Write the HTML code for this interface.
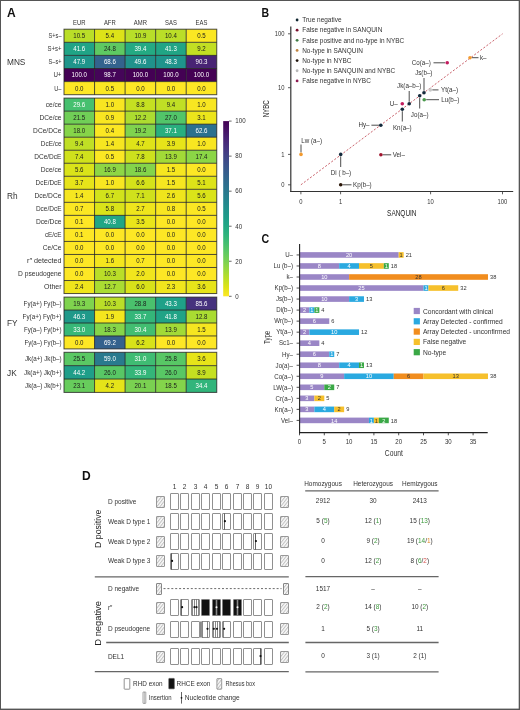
<!DOCTYPE html>
<html><head><meta charset="utf-8"><style>
html,body{margin:0;padding:0;background:#fff;}
svg{display:block;font-family:"Liberation Sans", sans-serif;will-change:transform;}
</style></head><body>
<svg width="520" height="710" viewBox="0 0 520 710">
<rect width="520" height="710" fill="#fff"/>
<text x="6.90" y="16.70" font-size="12.2" font-weight="bold" textLength="8.7" lengthAdjust="spacingAndGlyphs" fill="#111">A</text>
<text x="79.28" y="25.10" font-size="6.7" text-anchor="middle" textLength="12.45" lengthAdjust="spacingAndGlyphs" fill="#333">EUR</text>
<text x="109.83" y="25.10" font-size="6.7" text-anchor="middle" textLength="11.79" lengthAdjust="spacingAndGlyphs" fill="#333">AFR</text>
<text x="140.38" y="25.10" font-size="6.7" text-anchor="middle" textLength="13.1" lengthAdjust="spacingAndGlyphs" fill="#333">AMR</text>
<text x="170.93" y="25.10" font-size="6.7" text-anchor="middle" textLength="11.8" lengthAdjust="spacingAndGlyphs" fill="#333">SAS</text>
<text x="201.47" y="25.10" font-size="6.7" text-anchor="middle" textLength="11.8" lengthAdjust="spacingAndGlyphs" fill="#333">EAS</text>
<text x="7.00" y="65.15" font-size="9.2" textLength="18.4" lengthAdjust="spacingAndGlyphs" fill="#333">MNS</text>
<text x="61.50" y="38.15" font-size="7.0" text-anchor="end" textLength="12.9" lengthAdjust="spacingAndGlyphs" fill="#333">S+s–</text>
<text x="61.50" y="51.25" font-size="7.0" text-anchor="end" textLength="14.0" lengthAdjust="spacingAndGlyphs" fill="#333">S+s+</text>
<text x="61.50" y="64.35" font-size="7.0" text-anchor="end" textLength="12.9" lengthAdjust="spacingAndGlyphs" fill="#333">S–s+</text>
<text x="61.50" y="77.45" font-size="7.0" text-anchor="end" textLength="8.1" lengthAdjust="spacingAndGlyphs" fill="#333">U+</text>
<text x="61.50" y="90.55" font-size="7.0" text-anchor="end" textLength="7.2" lengthAdjust="spacingAndGlyphs" fill="#333">U–</text>
<text x="7.00" y="199.02" font-size="9.2" textLength="10.58" lengthAdjust="spacingAndGlyphs" fill="#333">Rh</text>
<text x="61.50" y="107.02" font-size="7.0" text-anchor="end" textLength="15.7" lengthAdjust="spacingAndGlyphs" fill="#333">ce/ce</text>
<text x="61.50" y="120.05" font-size="7.0" text-anchor="end" textLength="22.1" lengthAdjust="spacingAndGlyphs" fill="#333">DCe/ce</text>
<text x="61.50" y="133.07" font-size="7.0" text-anchor="end" textLength="28.4" lengthAdjust="spacingAndGlyphs" fill="#333">DCe/DCe</text>
<text x="61.50" y="146.10" font-size="7.0" text-anchor="end" textLength="20.7" lengthAdjust="spacingAndGlyphs" fill="#333">DcE/ce</text>
<text x="61.50" y="159.13" font-size="7.0" text-anchor="end" textLength="27.3" lengthAdjust="spacingAndGlyphs" fill="#333">DCe/DcE</text>
<text x="61.50" y="172.16" font-size="7.0" text-anchor="end" textLength="20.7" lengthAdjust="spacingAndGlyphs" fill="#333">Dce/ce</text>
<text x="61.50" y="185.19" font-size="7.0" text-anchor="end" textLength="25.9" lengthAdjust="spacingAndGlyphs" fill="#333">DcE/DcE</text>
<text x="61.50" y="198.22" font-size="7.0" text-anchor="end" textLength="27.1" lengthAdjust="spacingAndGlyphs" fill="#333">Dce/DCe</text>
<text x="61.50" y="211.25" font-size="7.0" text-anchor="end" textLength="25.6" lengthAdjust="spacingAndGlyphs" fill="#333">Dce/DcE</text>
<text x="61.50" y="224.28" font-size="7.0" text-anchor="end" textLength="25.6" lengthAdjust="spacingAndGlyphs" fill="#333">Dce/Dce</text>
<text x="61.50" y="237.31" font-size="7.0" text-anchor="end" textLength="16.6" lengthAdjust="spacingAndGlyphs" fill="#333">cE/cE</text>
<text x="61.50" y="250.34" font-size="7.0" text-anchor="end" textLength="18.7" lengthAdjust="spacingAndGlyphs" fill="#333">Ce/Ce</text>
<text x="61.50" y="263.37" font-size="7.0" text-anchor="end" textLength="34.4" lengthAdjust="spacingAndGlyphs" fill="#333">r″ detected</text>
<text x="61.50" y="276.40" font-size="7.0" text-anchor="end" textLength="43.4" lengthAdjust="spacingAndGlyphs" fill="#333">D pseudogene</text>
<text x="61.50" y="289.43" font-size="7.0" text-anchor="end" textLength="17.5" lengthAdjust="spacingAndGlyphs" fill="#333">Other</text>
<text x="7.00" y="326.20" font-size="9.2" textLength="10.58" lengthAdjust="spacingAndGlyphs" fill="#333">FY</text>
<text x="61.50" y="305.98" font-size="7.0" text-anchor="end" textLength="37.9" lengthAdjust="spacingAndGlyphs" fill="#333">Fy(a+) Fy(b–)</text>
<text x="61.50" y="318.93" font-size="7.0" text-anchor="end" textLength="39.0" lengthAdjust="spacingAndGlyphs" fill="#333">Fy(a+) Fy(b+)</text>
<text x="61.50" y="331.88" font-size="7.0" text-anchor="end" textLength="37.6" lengthAdjust="spacingAndGlyphs" fill="#333">Fy(a–) Fy(b+)</text>
<text x="61.50" y="344.83" font-size="7.0" text-anchor="end" textLength="37.0" lengthAdjust="spacingAndGlyphs" fill="#333">Fy(a–) Fy(b–)</text>
<text x="7.00" y="375.56" font-size="9.2" textLength="9.66" lengthAdjust="spacingAndGlyphs" fill="#333">JK</text>
<text x="61.50" y="361.38" font-size="7.0" text-anchor="end" textLength="36.6" lengthAdjust="spacingAndGlyphs" fill="#333">Jk(a+) Jk(b–)</text>
<text x="61.50" y="374.75" font-size="7.0" text-anchor="end" textLength="37.5" lengthAdjust="spacingAndGlyphs" fill="#333">Jk(a+) Jk(b+)</text>
<text x="61.50" y="388.12" font-size="7.0" text-anchor="end" textLength="36.4" lengthAdjust="spacingAndGlyphs" fill="#333">Jk(a–) Jk(b+)</text>
<rect x="64.00" y="29.20" width="30.55" height="13.10" fill="#bade28"/>
<rect x="94.55" y="29.20" width="30.55" height="13.10" fill="#dde318"/>
<rect x="125.10" y="29.20" width="30.55" height="13.10" fill="#b8de29"/>
<rect x="155.65" y="29.20" width="30.55" height="13.10" fill="#bade28"/>
<rect x="186.20" y="29.20" width="30.55" height="13.10" fill="#fbe723"/>
<rect x="64.00" y="42.30" width="30.55" height="13.10" fill="#20a486"/>
<rect x="94.55" y="42.30" width="30.55" height="13.10" fill="#5ec962"/>
<rect x="125.10" y="42.30" width="30.55" height="13.10" fill="#24aa83"/>
<rect x="155.65" y="42.30" width="30.55" height="13.10" fill="#21a585"/>
<rect x="186.20" y="42.30" width="30.55" height="13.10" fill="#c2df23"/>
<rect x="64.00" y="55.40" width="30.55" height="13.10" fill="#1f958b"/>
<rect x="94.55" y="55.40" width="30.55" height="13.10" fill="#33638d"/>
<rect x="125.10" y="55.40" width="30.55" height="13.10" fill="#20928c"/>
<rect x="155.65" y="55.40" width="30.55" height="13.10" fill="#1f948c"/>
<rect x="186.20" y="55.40" width="30.55" height="13.10" fill="#482374"/>
<rect x="64.00" y="68.50" width="30.55" height="13.10" fill="#440154"/>
<rect x="94.55" y="68.50" width="30.55" height="13.10" fill="#450559"/>
<rect x="125.10" y="68.50" width="30.55" height="13.10" fill="#440154"/>
<rect x="155.65" y="68.50" width="30.55" height="13.10" fill="#440154"/>
<rect x="186.20" y="68.50" width="30.55" height="13.10" fill="#440154"/>
<rect x="64.00" y="81.60" width="30.55" height="13.10" fill="#fde725"/>
<rect x="94.55" y="81.60" width="30.55" height="13.10" fill="#fbe723"/>
<rect x="125.10" y="81.60" width="30.55" height="13.10" fill="#fde725"/>
<rect x="155.65" y="81.60" width="30.55" height="13.10" fill="#fde725"/>
<rect x="186.20" y="81.60" width="30.55" height="13.10" fill="#fde725"/>
<rect x="64.00" y="98.10" width="30.55" height="13.03" fill="#46c06f"/>
<rect x="94.55" y="98.10" width="30.55" height="13.03" fill="#f8e621"/>
<rect x="125.10" y="98.10" width="30.55" height="13.03" fill="#c5e021"/>
<rect x="155.65" y="98.10" width="30.55" height="13.03" fill="#c0df25"/>
<rect x="186.20" y="98.10" width="30.55" height="13.03" fill="#f8e621"/>
<rect x="64.00" y="111.13" width="30.55" height="13.03" fill="#70cf57"/>
<rect x="94.55" y="111.13" width="30.55" height="13.03" fill="#f8e621"/>
<rect x="125.10" y="111.13" width="30.55" height="13.03" fill="#addc30"/>
<rect x="155.65" y="111.13" width="30.55" height="13.03" fill="#52c569"/>
<rect x="186.20" y="111.13" width="30.55" height="13.03" fill="#ece51b"/>
<rect x="64.00" y="124.16" width="30.55" height="13.03" fill="#86d549"/>
<rect x="94.55" y="124.16" width="30.55" height="13.03" fill="#fbe723"/>
<rect x="125.10" y="124.16" width="30.55" height="13.03" fill="#7fd34e"/>
<rect x="155.65" y="124.16" width="30.55" height="13.03" fill="#29af7f"/>
<rect x="186.20" y="124.16" width="30.55" height="13.03" fill="#2c718e"/>
<rect x="64.00" y="137.19" width="30.55" height="13.03" fill="#c0df25"/>
<rect x="94.55" y="137.19" width="30.55" height="13.03" fill="#f6e620"/>
<rect x="125.10" y="137.19" width="30.55" height="13.03" fill="#dfe318"/>
<rect x="155.65" y="137.19" width="30.55" height="13.03" fill="#e7e419"/>
<rect x="186.20" y="137.19" width="30.55" height="13.03" fill="#f8e621"/>
<rect x="64.00" y="150.22" width="30.55" height="13.03" fill="#d0e11c"/>
<rect x="94.55" y="150.22" width="30.55" height="13.03" fill="#fbe723"/>
<rect x="125.10" y="150.22" width="30.55" height="13.03" fill="#cde11d"/>
<rect x="155.65" y="150.22" width="30.55" height="13.03" fill="#a2da37"/>
<rect x="186.20" y="150.22" width="30.55" height="13.03" fill="#8bd646"/>
<rect x="64.00" y="163.25" width="30.55" height="13.03" fill="#dae319"/>
<rect x="94.55" y="163.25" width="30.55" height="13.03" fill="#8ed645"/>
<rect x="125.10" y="163.25" width="30.55" height="13.03" fill="#84d44b"/>
<rect x="155.65" y="163.25" width="30.55" height="13.03" fill="#f6e620"/>
<rect x="186.20" y="163.25" width="30.55" height="13.03" fill="#fde725"/>
<rect x="64.00" y="176.28" width="30.55" height="13.03" fill="#e7e419"/>
<rect x="94.55" y="176.28" width="30.55" height="13.03" fill="#f8e621"/>
<rect x="125.10" y="176.28" width="30.55" height="13.03" fill="#d5e21a"/>
<rect x="155.65" y="176.28" width="30.55" height="13.03" fill="#f6e620"/>
<rect x="186.20" y="176.28" width="30.55" height="13.03" fill="#dde318"/>
<rect x="64.00" y="189.31" width="30.55" height="13.03" fill="#f6e620"/>
<rect x="94.55" y="189.31" width="30.55" height="13.03" fill="#d2e21b"/>
<rect x="125.10" y="189.31" width="30.55" height="13.03" fill="#d0e11c"/>
<rect x="155.65" y="189.31" width="30.55" height="13.03" fill="#efe51c"/>
<rect x="186.20" y="189.31" width="30.55" height="13.03" fill="#dae319"/>
<rect x="64.00" y="202.34" width="30.55" height="13.03" fill="#fbe723"/>
<rect x="94.55" y="202.34" width="30.55" height="13.03" fill="#dae319"/>
<rect x="125.10" y="202.34" width="30.55" height="13.03" fill="#efe51c"/>
<rect x="155.65" y="202.34" width="30.55" height="13.03" fill="#f8e621"/>
<rect x="186.20" y="202.34" width="30.55" height="13.03" fill="#fbe723"/>
<rect x="64.00" y="215.37" width="30.55" height="13.03" fill="#fde725"/>
<rect x="94.55" y="215.37" width="30.55" height="13.03" fill="#21a685"/>
<rect x="125.10" y="215.37" width="30.55" height="13.03" fill="#eae51a"/>
<rect x="155.65" y="215.37" width="30.55" height="13.03" fill="#fde725"/>
<rect x="186.20" y="215.37" width="30.55" height="13.03" fill="#fde725"/>
<rect x="64.00" y="228.40" width="30.55" height="13.03" fill="#fde725"/>
<rect x="94.55" y="228.40" width="30.55" height="13.03" fill="#fde725"/>
<rect x="125.10" y="228.40" width="30.55" height="13.03" fill="#fde725"/>
<rect x="155.65" y="228.40" width="30.55" height="13.03" fill="#fde725"/>
<rect x="186.20" y="228.40" width="30.55" height="13.03" fill="#fde725"/>
<rect x="64.00" y="241.43" width="30.55" height="13.03" fill="#fde725"/>
<rect x="94.55" y="241.43" width="30.55" height="13.03" fill="#fde725"/>
<rect x="125.10" y="241.43" width="30.55" height="13.03" fill="#fde725"/>
<rect x="155.65" y="241.43" width="30.55" height="13.03" fill="#fde725"/>
<rect x="186.20" y="241.43" width="30.55" height="13.03" fill="#fde725"/>
<rect x="64.00" y="254.46" width="30.55" height="13.03" fill="#fde725"/>
<rect x="94.55" y="254.46" width="30.55" height="13.03" fill="#f4e61e"/>
<rect x="125.10" y="254.46" width="30.55" height="13.03" fill="#fbe723"/>
<rect x="155.65" y="254.46" width="30.55" height="13.03" fill="#fde725"/>
<rect x="186.20" y="254.46" width="30.55" height="13.03" fill="#fde725"/>
<rect x="64.00" y="267.49" width="30.55" height="13.03" fill="#fde725"/>
<rect x="94.55" y="267.49" width="30.55" height="13.03" fill="#bade28"/>
<rect x="125.10" y="267.49" width="30.55" height="13.03" fill="#f1e51d"/>
<rect x="155.65" y="267.49" width="30.55" height="13.03" fill="#fde725"/>
<rect x="186.20" y="267.49" width="30.55" height="13.03" fill="#fde725"/>
<rect x="64.00" y="280.52" width="30.55" height="13.03" fill="#efe51c"/>
<rect x="94.55" y="280.52" width="30.55" height="13.03" fill="#aadc32"/>
<rect x="125.10" y="280.52" width="30.55" height="13.03" fill="#d8e219"/>
<rect x="155.65" y="280.52" width="30.55" height="13.03" fill="#f1e51d"/>
<rect x="186.20" y="280.52" width="30.55" height="13.03" fill="#e7e419"/>
<rect x="64.00" y="297.10" width="30.55" height="12.95" fill="#7fd34e"/>
<rect x="94.55" y="297.10" width="30.55" height="12.95" fill="#bade28"/>
<rect x="125.10" y="297.10" width="30.55" height="12.95" fill="#4ac16d"/>
<rect x="155.65" y="297.10" width="30.55" height="12.95" fill="#1fa188"/>
<rect x="186.20" y="297.10" width="30.55" height="12.95" fill="#46327e"/>
<rect x="64.00" y="310.05" width="30.55" height="12.95" fill="#1f998a"/>
<rect x="94.55" y="310.05" width="30.55" height="12.95" fill="#f4e61e"/>
<rect x="125.10" y="310.05" width="30.55" height="12.95" fill="#34b679"/>
<rect x="155.65" y="310.05" width="30.55" height="12.95" fill="#20a386"/>
<rect x="186.20" y="310.05" width="30.55" height="12.95" fill="#aadc32"/>
<rect x="64.00" y="323.00" width="30.55" height="12.95" fill="#37b878"/>
<rect x="94.55" y="323.00" width="30.55" height="12.95" fill="#86d549"/>
<rect x="125.10" y="323.00" width="30.55" height="12.95" fill="#42be71"/>
<rect x="155.65" y="323.00" width="30.55" height="12.95" fill="#a2da37"/>
<rect x="186.20" y="323.00" width="30.55" height="12.95" fill="#f6e620"/>
<rect x="64.00" y="335.95" width="30.55" height="12.95" fill="#fde725"/>
<rect x="94.55" y="335.95" width="30.55" height="12.95" fill="#34618d"/>
<rect x="125.10" y="335.95" width="30.55" height="12.95" fill="#d8e219"/>
<rect x="155.65" y="335.95" width="30.55" height="12.95" fill="#fde725"/>
<rect x="186.20" y="335.95" width="30.55" height="12.95" fill="#fde725"/>
<rect x="64.00" y="352.30" width="30.55" height="13.37" fill="#5ac864"/>
<rect x="94.55" y="352.30" width="30.55" height="13.37" fill="#297a8e"/>
<rect x="125.10" y="352.30" width="30.55" height="13.37" fill="#3fbc73"/>
<rect x="155.65" y="352.30" width="30.55" height="13.37" fill="#58c765"/>
<rect x="186.20" y="352.30" width="30.55" height="13.37" fill="#e7e419"/>
<rect x="64.00" y="365.67" width="30.55" height="13.37" fill="#1f9e89"/>
<rect x="94.55" y="365.67" width="30.55" height="13.37" fill="#58c765"/>
<rect x="125.10" y="365.67" width="30.55" height="13.37" fill="#34b679"/>
<rect x="155.65" y="365.67" width="30.55" height="13.37" fill="#58c765"/>
<rect x="186.20" y="365.67" width="30.55" height="13.37" fill="#c5e021"/>
<rect x="64.00" y="379.04" width="30.55" height="13.37" fill="#67cc5c"/>
<rect x="94.55" y="379.04" width="30.55" height="13.37" fill="#e5e419"/>
<rect x="125.10" y="379.04" width="30.55" height="13.37" fill="#7ad151"/>
<rect x="155.65" y="379.04" width="30.55" height="13.37" fill="#84d44b"/>
<rect x="186.20" y="379.04" width="30.55" height="13.37" fill="#31b57b"/>
<rect x="64.00" y="29.20" width="152.75" height="65.50" fill="none" stroke="#222" stroke-opacity="0.8" stroke-width="1"/>
<line x1="64.00" y1="42.30" x2="216.75" y2="42.30" stroke="#222" stroke-opacity="0.8" stroke-width="1"/>
<line x1="64.00" y1="55.40" x2="216.75" y2="55.40" stroke="#222" stroke-opacity="0.8" stroke-width="1"/>
<line x1="64.00" y1="68.50" x2="216.75" y2="68.50" stroke="#222" stroke-opacity="0.8" stroke-width="1"/>
<line x1="64.00" y1="81.60" x2="216.75" y2="81.60" stroke="#222" stroke-opacity="0.8" stroke-width="1"/>
<line x1="94.55" y1="29.20" x2="94.55" y2="94.70" stroke="#222" stroke-opacity="0.8" stroke-width="1"/>
<line x1="125.10" y1="29.20" x2="125.10" y2="94.70" stroke="#222" stroke-opacity="0.8" stroke-width="1"/>
<line x1="155.65" y1="29.20" x2="155.65" y2="94.70" stroke="#222" stroke-opacity="0.8" stroke-width="1"/>
<line x1="186.20" y1="29.20" x2="186.20" y2="94.70" stroke="#222" stroke-opacity="0.8" stroke-width="1"/>
<rect x="64.00" y="98.10" width="152.75" height="195.45" fill="none" stroke="#222" stroke-opacity="0.8" stroke-width="1"/>
<line x1="64.00" y1="111.13" x2="216.75" y2="111.13" stroke="#222" stroke-opacity="0.8" stroke-width="1"/>
<line x1="64.00" y1="124.16" x2="216.75" y2="124.16" stroke="#222" stroke-opacity="0.8" stroke-width="1"/>
<line x1="64.00" y1="137.19" x2="216.75" y2="137.19" stroke="#222" stroke-opacity="0.8" stroke-width="1"/>
<line x1="64.00" y1="150.22" x2="216.75" y2="150.22" stroke="#222" stroke-opacity="0.8" stroke-width="1"/>
<line x1="64.00" y1="163.25" x2="216.75" y2="163.25" stroke="#222" stroke-opacity="0.8" stroke-width="1"/>
<line x1="64.00" y1="176.28" x2="216.75" y2="176.28" stroke="#222" stroke-opacity="0.8" stroke-width="1"/>
<line x1="64.00" y1="189.31" x2="216.75" y2="189.31" stroke="#222" stroke-opacity="0.8" stroke-width="1"/>
<line x1="64.00" y1="202.34" x2="216.75" y2="202.34" stroke="#222" stroke-opacity="0.8" stroke-width="1"/>
<line x1="64.00" y1="215.37" x2="216.75" y2="215.37" stroke="#222" stroke-opacity="0.8" stroke-width="1"/>
<line x1="64.00" y1="228.40" x2="216.75" y2="228.40" stroke="#222" stroke-opacity="0.8" stroke-width="1"/>
<line x1="64.00" y1="241.43" x2="216.75" y2="241.43" stroke="#222" stroke-opacity="0.8" stroke-width="1"/>
<line x1="64.00" y1="254.46" x2="216.75" y2="254.46" stroke="#222" stroke-opacity="0.8" stroke-width="1"/>
<line x1="64.00" y1="267.49" x2="216.75" y2="267.49" stroke="#222" stroke-opacity="0.8" stroke-width="1"/>
<line x1="64.00" y1="280.52" x2="216.75" y2="280.52" stroke="#222" stroke-opacity="0.8" stroke-width="1"/>
<line x1="94.55" y1="98.10" x2="94.55" y2="293.55" stroke="#222" stroke-opacity="0.8" stroke-width="1"/>
<line x1="125.10" y1="98.10" x2="125.10" y2="293.55" stroke="#222" stroke-opacity="0.8" stroke-width="1"/>
<line x1="155.65" y1="98.10" x2="155.65" y2="293.55" stroke="#222" stroke-opacity="0.8" stroke-width="1"/>
<line x1="186.20" y1="98.10" x2="186.20" y2="293.55" stroke="#222" stroke-opacity="0.8" stroke-width="1"/>
<rect x="64.00" y="297.10" width="152.75" height="51.80" fill="none" stroke="#222" stroke-opacity="0.8" stroke-width="1"/>
<line x1="64.00" y1="310.05" x2="216.75" y2="310.05" stroke="#222" stroke-opacity="0.8" stroke-width="1"/>
<line x1="64.00" y1="323.00" x2="216.75" y2="323.00" stroke="#222" stroke-opacity="0.8" stroke-width="1"/>
<line x1="64.00" y1="335.95" x2="216.75" y2="335.95" stroke="#222" stroke-opacity="0.8" stroke-width="1"/>
<line x1="94.55" y1="297.10" x2="94.55" y2="348.90" stroke="#222" stroke-opacity="0.8" stroke-width="1"/>
<line x1="125.10" y1="297.10" x2="125.10" y2="348.90" stroke="#222" stroke-opacity="0.8" stroke-width="1"/>
<line x1="155.65" y1="297.10" x2="155.65" y2="348.90" stroke="#222" stroke-opacity="0.8" stroke-width="1"/>
<line x1="186.20" y1="297.10" x2="186.20" y2="348.90" stroke="#222" stroke-opacity="0.8" stroke-width="1"/>
<rect x="64.00" y="352.30" width="152.75" height="40.11" fill="none" stroke="#222" stroke-opacity="0.8" stroke-width="1"/>
<line x1="64.00" y1="365.67" x2="216.75" y2="365.67" stroke="#222" stroke-opacity="0.8" stroke-width="1"/>
<line x1="64.00" y1="379.04" x2="216.75" y2="379.04" stroke="#222" stroke-opacity="0.8" stroke-width="1"/>
<line x1="94.55" y1="352.30" x2="94.55" y2="392.41" stroke="#222" stroke-opacity="0.8" stroke-width="1"/>
<line x1="125.10" y1="352.30" x2="125.10" y2="392.41" stroke="#222" stroke-opacity="0.8" stroke-width="1"/>
<line x1="155.65" y1="352.30" x2="155.65" y2="392.41" stroke="#222" stroke-opacity="0.8" stroke-width="1"/>
<line x1="186.20" y1="352.30" x2="186.20" y2="392.41" stroke="#222" stroke-opacity="0.8" stroke-width="1"/>
<text x="79.28" y="38.15" font-size="6.8" text-anchor="middle" textLength="11.91" lengthAdjust="spacingAndGlyphs" fill="#1c1c1c">10.5</text>
<text x="109.83" y="38.15" font-size="6.8" text-anchor="middle" textLength="8.51" lengthAdjust="spacingAndGlyphs" fill="#1c1c1c">5.4</text>
<text x="140.38" y="38.15" font-size="6.8" text-anchor="middle" textLength="11.91" lengthAdjust="spacingAndGlyphs" fill="#1c1c1c">10.9</text>
<text x="170.93" y="38.15" font-size="6.8" text-anchor="middle" textLength="11.91" lengthAdjust="spacingAndGlyphs" fill="#1c1c1c">10.4</text>
<text x="201.47" y="38.15" font-size="6.8" text-anchor="middle" textLength="8.51" lengthAdjust="spacingAndGlyphs" fill="#1c1c1c">0.5</text>
<text x="79.28" y="51.25" font-size="6.8" text-anchor="middle" textLength="11.91" lengthAdjust="spacingAndGlyphs" fill="#fff">41.6</text>
<text x="109.83" y="51.25" font-size="6.8" text-anchor="middle" textLength="11.91" lengthAdjust="spacingAndGlyphs" fill="#1c1c1c">24.8</text>
<text x="140.38" y="51.25" font-size="6.8" text-anchor="middle" textLength="11.91" lengthAdjust="spacingAndGlyphs" fill="#fff">39.4</text>
<text x="170.93" y="51.25" font-size="6.8" text-anchor="middle" textLength="11.91" lengthAdjust="spacingAndGlyphs" fill="#fff">41.3</text>
<text x="201.47" y="51.25" font-size="6.8" text-anchor="middle" textLength="8.51" lengthAdjust="spacingAndGlyphs" fill="#1c1c1c">9.2</text>
<text x="79.28" y="64.35" font-size="6.8" text-anchor="middle" textLength="11.91" lengthAdjust="spacingAndGlyphs" fill="#fff">47.9</text>
<text x="109.83" y="64.35" font-size="6.8" text-anchor="middle" textLength="11.91" lengthAdjust="spacingAndGlyphs" fill="#fff">68.6</text>
<text x="140.38" y="64.35" font-size="6.8" text-anchor="middle" textLength="11.91" lengthAdjust="spacingAndGlyphs" fill="#fff">49.6</text>
<text x="170.93" y="64.35" font-size="6.8" text-anchor="middle" textLength="11.91" lengthAdjust="spacingAndGlyphs" fill="#fff">48.3</text>
<text x="201.47" y="64.35" font-size="6.8" text-anchor="middle" textLength="11.91" lengthAdjust="spacingAndGlyphs" fill="#fff">90.3</text>
<text x="79.28" y="77.45" font-size="6.8" text-anchor="middle" textLength="15.32" lengthAdjust="spacingAndGlyphs" fill="#fff">100.0</text>
<text x="109.83" y="77.45" font-size="6.8" text-anchor="middle" textLength="11.91" lengthAdjust="spacingAndGlyphs" fill="#fff">98.7</text>
<text x="140.38" y="77.45" font-size="6.8" text-anchor="middle" textLength="15.32" lengthAdjust="spacingAndGlyphs" fill="#fff">100.0</text>
<text x="170.93" y="77.45" font-size="6.8" text-anchor="middle" textLength="15.32" lengthAdjust="spacingAndGlyphs" fill="#fff">100.0</text>
<text x="201.47" y="77.45" font-size="6.8" text-anchor="middle" textLength="15.32" lengthAdjust="spacingAndGlyphs" fill="#fff">100.0</text>
<text x="79.28" y="90.55" font-size="6.8" text-anchor="middle" textLength="8.51" lengthAdjust="spacingAndGlyphs" fill="#1c1c1c">0.0</text>
<text x="109.83" y="90.55" font-size="6.8" text-anchor="middle" textLength="8.51" lengthAdjust="spacingAndGlyphs" fill="#1c1c1c">0.5</text>
<text x="140.38" y="90.55" font-size="6.8" text-anchor="middle" textLength="8.51" lengthAdjust="spacingAndGlyphs" fill="#1c1c1c">0.0</text>
<text x="170.93" y="90.55" font-size="6.8" text-anchor="middle" textLength="8.51" lengthAdjust="spacingAndGlyphs" fill="#1c1c1c">0.0</text>
<text x="201.47" y="90.55" font-size="6.8" text-anchor="middle" textLength="8.51" lengthAdjust="spacingAndGlyphs" fill="#1c1c1c">0.0</text>
<text x="79.28" y="107.02" font-size="6.8" text-anchor="middle" textLength="11.91" lengthAdjust="spacingAndGlyphs" fill="#fff">29.6</text>
<text x="109.83" y="107.02" font-size="6.8" text-anchor="middle" textLength="8.51" lengthAdjust="spacingAndGlyphs" fill="#1c1c1c">1.0</text>
<text x="140.38" y="107.02" font-size="6.8" text-anchor="middle" textLength="8.51" lengthAdjust="spacingAndGlyphs" fill="#1c1c1c">8.8</text>
<text x="170.93" y="107.02" font-size="6.8" text-anchor="middle" textLength="8.51" lengthAdjust="spacingAndGlyphs" fill="#1c1c1c">9.4</text>
<text x="201.47" y="107.02" font-size="6.8" text-anchor="middle" textLength="8.51" lengthAdjust="spacingAndGlyphs" fill="#1c1c1c">1.0</text>
<text x="79.28" y="120.05" font-size="6.8" text-anchor="middle" textLength="11.91" lengthAdjust="spacingAndGlyphs" fill="#1c1c1c">21.5</text>
<text x="109.83" y="120.05" font-size="6.8" text-anchor="middle" textLength="8.51" lengthAdjust="spacingAndGlyphs" fill="#1c1c1c">0.9</text>
<text x="140.38" y="120.05" font-size="6.8" text-anchor="middle" textLength="11.91" lengthAdjust="spacingAndGlyphs" fill="#1c1c1c">12.2</text>
<text x="170.93" y="120.05" font-size="6.8" text-anchor="middle" textLength="11.91" lengthAdjust="spacingAndGlyphs" fill="#1c1c1c">27.0</text>
<text x="201.47" y="120.05" font-size="6.8" text-anchor="middle" textLength="8.51" lengthAdjust="spacingAndGlyphs" fill="#1c1c1c">3.1</text>
<text x="79.28" y="133.07" font-size="6.8" text-anchor="middle" textLength="11.91" lengthAdjust="spacingAndGlyphs" fill="#1c1c1c">18.0</text>
<text x="109.83" y="133.07" font-size="6.8" text-anchor="middle" textLength="8.51" lengthAdjust="spacingAndGlyphs" fill="#1c1c1c">0.4</text>
<text x="140.38" y="133.07" font-size="6.8" text-anchor="middle" textLength="11.91" lengthAdjust="spacingAndGlyphs" fill="#1c1c1c">19.2</text>
<text x="170.93" y="133.07" font-size="6.8" text-anchor="middle" textLength="11.91" lengthAdjust="spacingAndGlyphs" fill="#fff">37.1</text>
<text x="201.47" y="133.07" font-size="6.8" text-anchor="middle" textLength="11.91" lengthAdjust="spacingAndGlyphs" fill="#fff">62.6</text>
<text x="79.28" y="146.10" font-size="6.8" text-anchor="middle" textLength="8.51" lengthAdjust="spacingAndGlyphs" fill="#1c1c1c">9.4</text>
<text x="109.83" y="146.10" font-size="6.8" text-anchor="middle" textLength="8.51" lengthAdjust="spacingAndGlyphs" fill="#1c1c1c">1.4</text>
<text x="140.38" y="146.10" font-size="6.8" text-anchor="middle" textLength="8.51" lengthAdjust="spacingAndGlyphs" fill="#1c1c1c">4.7</text>
<text x="170.93" y="146.10" font-size="6.8" text-anchor="middle" textLength="8.51" lengthAdjust="spacingAndGlyphs" fill="#1c1c1c">3.9</text>
<text x="201.47" y="146.10" font-size="6.8" text-anchor="middle" textLength="8.51" lengthAdjust="spacingAndGlyphs" fill="#1c1c1c">1.0</text>
<text x="79.28" y="159.13" font-size="6.8" text-anchor="middle" textLength="8.51" lengthAdjust="spacingAndGlyphs" fill="#1c1c1c">7.4</text>
<text x="109.83" y="159.13" font-size="6.8" text-anchor="middle" textLength="8.51" lengthAdjust="spacingAndGlyphs" fill="#1c1c1c">0.5</text>
<text x="140.38" y="159.13" font-size="6.8" text-anchor="middle" textLength="8.51" lengthAdjust="spacingAndGlyphs" fill="#1c1c1c">7.8</text>
<text x="170.93" y="159.13" font-size="6.8" text-anchor="middle" textLength="11.91" lengthAdjust="spacingAndGlyphs" fill="#1c1c1c">13.9</text>
<text x="201.47" y="159.13" font-size="6.8" text-anchor="middle" textLength="11.91" lengthAdjust="spacingAndGlyphs" fill="#1c1c1c">17.4</text>
<text x="79.28" y="172.16" font-size="6.8" text-anchor="middle" textLength="8.51" lengthAdjust="spacingAndGlyphs" fill="#1c1c1c">5.6</text>
<text x="109.83" y="172.16" font-size="6.8" text-anchor="middle" textLength="11.91" lengthAdjust="spacingAndGlyphs" fill="#1c1c1c">16.9</text>
<text x="140.38" y="172.16" font-size="6.8" text-anchor="middle" textLength="11.91" lengthAdjust="spacingAndGlyphs" fill="#1c1c1c">18.6</text>
<text x="170.93" y="172.16" font-size="6.8" text-anchor="middle" textLength="8.51" lengthAdjust="spacingAndGlyphs" fill="#1c1c1c">1.5</text>
<text x="201.47" y="172.16" font-size="6.8" text-anchor="middle" textLength="8.51" lengthAdjust="spacingAndGlyphs" fill="#1c1c1c">0.0</text>
<text x="79.28" y="185.19" font-size="6.8" text-anchor="middle" textLength="8.51" lengthAdjust="spacingAndGlyphs" fill="#1c1c1c">3.7</text>
<text x="109.83" y="185.19" font-size="6.8" text-anchor="middle" textLength="8.51" lengthAdjust="spacingAndGlyphs" fill="#1c1c1c">1.0</text>
<text x="140.38" y="185.19" font-size="6.8" text-anchor="middle" textLength="8.51" lengthAdjust="spacingAndGlyphs" fill="#1c1c1c">6.6</text>
<text x="170.93" y="185.19" font-size="6.8" text-anchor="middle" textLength="8.51" lengthAdjust="spacingAndGlyphs" fill="#1c1c1c">1.5</text>
<text x="201.47" y="185.19" font-size="6.8" text-anchor="middle" textLength="8.51" lengthAdjust="spacingAndGlyphs" fill="#1c1c1c">5.1</text>
<text x="79.28" y="198.22" font-size="6.8" text-anchor="middle" textLength="8.51" lengthAdjust="spacingAndGlyphs" fill="#1c1c1c">1.4</text>
<text x="109.83" y="198.22" font-size="6.8" text-anchor="middle" textLength="8.51" lengthAdjust="spacingAndGlyphs" fill="#1c1c1c">6.7</text>
<text x="140.38" y="198.22" font-size="6.8" text-anchor="middle" textLength="8.51" lengthAdjust="spacingAndGlyphs" fill="#1c1c1c">7.1</text>
<text x="170.93" y="198.22" font-size="6.8" text-anchor="middle" textLength="8.51" lengthAdjust="spacingAndGlyphs" fill="#1c1c1c">2.6</text>
<text x="201.47" y="198.22" font-size="6.8" text-anchor="middle" textLength="8.51" lengthAdjust="spacingAndGlyphs" fill="#1c1c1c">5.6</text>
<text x="79.28" y="211.25" font-size="6.8" text-anchor="middle" textLength="8.51" lengthAdjust="spacingAndGlyphs" fill="#1c1c1c">0.7</text>
<text x="109.83" y="211.25" font-size="6.8" text-anchor="middle" textLength="8.51" lengthAdjust="spacingAndGlyphs" fill="#1c1c1c">5.8</text>
<text x="140.38" y="211.25" font-size="6.8" text-anchor="middle" textLength="8.51" lengthAdjust="spacingAndGlyphs" fill="#1c1c1c">2.7</text>
<text x="170.93" y="211.25" font-size="6.8" text-anchor="middle" textLength="8.51" lengthAdjust="spacingAndGlyphs" fill="#1c1c1c">0.8</text>
<text x="201.47" y="211.25" font-size="6.8" text-anchor="middle" textLength="8.51" lengthAdjust="spacingAndGlyphs" fill="#1c1c1c">0.5</text>
<text x="79.28" y="224.28" font-size="6.8" text-anchor="middle" textLength="8.51" lengthAdjust="spacingAndGlyphs" fill="#1c1c1c">0.1</text>
<text x="109.83" y="224.28" font-size="6.8" text-anchor="middle" textLength="11.91" lengthAdjust="spacingAndGlyphs" fill="#fff">40.8</text>
<text x="140.38" y="224.28" font-size="6.8" text-anchor="middle" textLength="8.51" lengthAdjust="spacingAndGlyphs" fill="#1c1c1c">3.5</text>
<text x="170.93" y="224.28" font-size="6.8" text-anchor="middle" textLength="8.51" lengthAdjust="spacingAndGlyphs" fill="#1c1c1c">0.0</text>
<text x="201.47" y="224.28" font-size="6.8" text-anchor="middle" textLength="8.51" lengthAdjust="spacingAndGlyphs" fill="#1c1c1c">0.0</text>
<text x="79.28" y="237.31" font-size="6.8" text-anchor="middle" textLength="8.51" lengthAdjust="spacingAndGlyphs" fill="#1c1c1c">0.1</text>
<text x="109.83" y="237.31" font-size="6.8" text-anchor="middle" textLength="8.51" lengthAdjust="spacingAndGlyphs" fill="#1c1c1c">0.0</text>
<text x="140.38" y="237.31" font-size="6.8" text-anchor="middle" textLength="8.51" lengthAdjust="spacingAndGlyphs" fill="#1c1c1c">0.0</text>
<text x="170.93" y="237.31" font-size="6.8" text-anchor="middle" textLength="8.51" lengthAdjust="spacingAndGlyphs" fill="#1c1c1c">0.0</text>
<text x="201.47" y="237.31" font-size="6.8" text-anchor="middle" textLength="8.51" lengthAdjust="spacingAndGlyphs" fill="#1c1c1c">0.0</text>
<text x="79.28" y="250.34" font-size="6.8" text-anchor="middle" textLength="8.51" lengthAdjust="spacingAndGlyphs" fill="#1c1c1c">0.0</text>
<text x="109.83" y="250.34" font-size="6.8" text-anchor="middle" textLength="8.51" lengthAdjust="spacingAndGlyphs" fill="#1c1c1c">0.0</text>
<text x="140.38" y="250.34" font-size="6.8" text-anchor="middle" textLength="8.51" lengthAdjust="spacingAndGlyphs" fill="#1c1c1c">0.0</text>
<text x="170.93" y="250.34" font-size="6.8" text-anchor="middle" textLength="8.51" lengthAdjust="spacingAndGlyphs" fill="#1c1c1c">0.0</text>
<text x="201.47" y="250.34" font-size="6.8" text-anchor="middle" textLength="8.51" lengthAdjust="spacingAndGlyphs" fill="#1c1c1c">0.0</text>
<text x="79.28" y="263.37" font-size="6.8" text-anchor="middle" textLength="8.51" lengthAdjust="spacingAndGlyphs" fill="#1c1c1c">0.0</text>
<text x="109.83" y="263.37" font-size="6.8" text-anchor="middle" textLength="8.51" lengthAdjust="spacingAndGlyphs" fill="#1c1c1c">1.6</text>
<text x="140.38" y="263.37" font-size="6.8" text-anchor="middle" textLength="8.51" lengthAdjust="spacingAndGlyphs" fill="#1c1c1c">0.7</text>
<text x="170.93" y="263.37" font-size="6.8" text-anchor="middle" textLength="8.51" lengthAdjust="spacingAndGlyphs" fill="#1c1c1c">0.0</text>
<text x="201.47" y="263.37" font-size="6.8" text-anchor="middle" textLength="8.51" lengthAdjust="spacingAndGlyphs" fill="#1c1c1c">0.0</text>
<text x="79.28" y="276.40" font-size="6.8" text-anchor="middle" textLength="8.51" lengthAdjust="spacingAndGlyphs" fill="#1c1c1c">0.0</text>
<text x="109.83" y="276.40" font-size="6.8" text-anchor="middle" textLength="11.91" lengthAdjust="spacingAndGlyphs" fill="#1c1c1c">10.3</text>
<text x="140.38" y="276.40" font-size="6.8" text-anchor="middle" textLength="8.51" lengthAdjust="spacingAndGlyphs" fill="#1c1c1c">2.0</text>
<text x="170.93" y="276.40" font-size="6.8" text-anchor="middle" textLength="8.51" lengthAdjust="spacingAndGlyphs" fill="#1c1c1c">0.0</text>
<text x="201.47" y="276.40" font-size="6.8" text-anchor="middle" textLength="8.51" lengthAdjust="spacingAndGlyphs" fill="#1c1c1c">0.0</text>
<text x="79.28" y="289.43" font-size="6.8" text-anchor="middle" textLength="8.51" lengthAdjust="spacingAndGlyphs" fill="#1c1c1c">2.4</text>
<text x="109.83" y="289.43" font-size="6.8" text-anchor="middle" textLength="11.91" lengthAdjust="spacingAndGlyphs" fill="#1c1c1c">12.7</text>
<text x="140.38" y="289.43" font-size="6.8" text-anchor="middle" textLength="8.51" lengthAdjust="spacingAndGlyphs" fill="#1c1c1c">6.0</text>
<text x="170.93" y="289.43" font-size="6.8" text-anchor="middle" textLength="8.51" lengthAdjust="spacingAndGlyphs" fill="#1c1c1c">2.3</text>
<text x="201.47" y="289.43" font-size="6.8" text-anchor="middle" textLength="8.51" lengthAdjust="spacingAndGlyphs" fill="#1c1c1c">3.6</text>
<text x="79.28" y="305.98" font-size="6.8" text-anchor="middle" textLength="11.91" lengthAdjust="spacingAndGlyphs" fill="#1c1c1c">19.3</text>
<text x="109.83" y="305.98" font-size="6.8" text-anchor="middle" textLength="11.91" lengthAdjust="spacingAndGlyphs" fill="#1c1c1c">10.3</text>
<text x="140.38" y="305.98" font-size="6.8" text-anchor="middle" textLength="11.91" lengthAdjust="spacingAndGlyphs" fill="#1c1c1c">28.8</text>
<text x="170.93" y="305.98" font-size="6.8" text-anchor="middle" textLength="11.91" lengthAdjust="spacingAndGlyphs" fill="#fff">43.3</text>
<text x="201.47" y="305.98" font-size="6.8" text-anchor="middle" textLength="11.91" lengthAdjust="spacingAndGlyphs" fill="#fff">85.6</text>
<text x="79.28" y="318.93" font-size="6.8" text-anchor="middle" textLength="11.91" lengthAdjust="spacingAndGlyphs" fill="#fff">46.3</text>
<text x="109.83" y="318.93" font-size="6.8" text-anchor="middle" textLength="8.51" lengthAdjust="spacingAndGlyphs" fill="#1c1c1c">1.9</text>
<text x="140.38" y="318.93" font-size="6.8" text-anchor="middle" textLength="11.91" lengthAdjust="spacingAndGlyphs" fill="#fff">33.7</text>
<text x="170.93" y="318.93" font-size="6.8" text-anchor="middle" textLength="11.91" lengthAdjust="spacingAndGlyphs" fill="#fff">41.8</text>
<text x="201.47" y="318.93" font-size="6.8" text-anchor="middle" textLength="11.91" lengthAdjust="spacingAndGlyphs" fill="#1c1c1c">12.8</text>
<text x="79.28" y="331.88" font-size="6.8" text-anchor="middle" textLength="11.91" lengthAdjust="spacingAndGlyphs" fill="#fff">33.0</text>
<text x="109.83" y="331.88" font-size="6.8" text-anchor="middle" textLength="11.91" lengthAdjust="spacingAndGlyphs" fill="#1c1c1c">18.3</text>
<text x="140.38" y="331.88" font-size="6.8" text-anchor="middle" textLength="11.91" lengthAdjust="spacingAndGlyphs" fill="#fff">30.4</text>
<text x="170.93" y="331.88" font-size="6.8" text-anchor="middle" textLength="11.91" lengthAdjust="spacingAndGlyphs" fill="#1c1c1c">13.9</text>
<text x="201.47" y="331.88" font-size="6.8" text-anchor="middle" textLength="8.51" lengthAdjust="spacingAndGlyphs" fill="#1c1c1c">1.5</text>
<text x="79.28" y="344.83" font-size="6.8" text-anchor="middle" textLength="8.51" lengthAdjust="spacingAndGlyphs" fill="#1c1c1c">0.0</text>
<text x="109.83" y="344.83" font-size="6.8" text-anchor="middle" textLength="11.91" lengthAdjust="spacingAndGlyphs" fill="#fff">69.2</text>
<text x="140.38" y="344.83" font-size="6.8" text-anchor="middle" textLength="8.51" lengthAdjust="spacingAndGlyphs" fill="#1c1c1c">6.2</text>
<text x="170.93" y="344.83" font-size="6.8" text-anchor="middle" textLength="8.51" lengthAdjust="spacingAndGlyphs" fill="#1c1c1c">0.0</text>
<text x="201.47" y="344.83" font-size="6.8" text-anchor="middle" textLength="8.51" lengthAdjust="spacingAndGlyphs" fill="#1c1c1c">0.0</text>
<text x="79.28" y="361.38" font-size="6.8" text-anchor="middle" textLength="11.91" lengthAdjust="spacingAndGlyphs" fill="#1c1c1c">25.5</text>
<text x="109.83" y="361.38" font-size="6.8" text-anchor="middle" textLength="11.91" lengthAdjust="spacingAndGlyphs" fill="#fff">59.0</text>
<text x="140.38" y="361.38" font-size="6.8" text-anchor="middle" textLength="11.91" lengthAdjust="spacingAndGlyphs" fill="#fff">31.0</text>
<text x="170.93" y="361.38" font-size="6.8" text-anchor="middle" textLength="11.91" lengthAdjust="spacingAndGlyphs" fill="#1c1c1c">25.8</text>
<text x="201.47" y="361.38" font-size="6.8" text-anchor="middle" textLength="8.51" lengthAdjust="spacingAndGlyphs" fill="#1c1c1c">3.6</text>
<text x="79.28" y="374.75" font-size="6.8" text-anchor="middle" textLength="11.91" lengthAdjust="spacingAndGlyphs" fill="#fff">44.2</text>
<text x="109.83" y="374.75" font-size="6.8" text-anchor="middle" textLength="11.91" lengthAdjust="spacingAndGlyphs" fill="#1c1c1c">26.0</text>
<text x="140.38" y="374.75" font-size="6.8" text-anchor="middle" textLength="11.91" lengthAdjust="spacingAndGlyphs" fill="#fff">33.9</text>
<text x="170.93" y="374.75" font-size="6.8" text-anchor="middle" textLength="11.91" lengthAdjust="spacingAndGlyphs" fill="#1c1c1c">26.0</text>
<text x="201.47" y="374.75" font-size="6.8" text-anchor="middle" textLength="8.51" lengthAdjust="spacingAndGlyphs" fill="#1c1c1c">8.9</text>
<text x="79.28" y="388.12" font-size="6.8" text-anchor="middle" textLength="11.91" lengthAdjust="spacingAndGlyphs" fill="#1c1c1c">23.1</text>
<text x="109.83" y="388.12" font-size="6.8" text-anchor="middle" textLength="8.51" lengthAdjust="spacingAndGlyphs" fill="#1c1c1c">4.2</text>
<text x="140.38" y="388.12" font-size="6.8" text-anchor="middle" textLength="11.91" lengthAdjust="spacingAndGlyphs" fill="#1c1c1c">20.1</text>
<text x="170.93" y="388.12" font-size="6.8" text-anchor="middle" textLength="11.91" lengthAdjust="spacingAndGlyphs" fill="#1c1c1c">18.5</text>
<text x="201.47" y="388.12" font-size="6.8" text-anchor="middle" textLength="11.91" lengthAdjust="spacingAndGlyphs" fill="#fff">34.4</text>
<defs><linearGradient id="cb" x1="0" y1="0" x2="0" y2="1"><stop offset="0.000" stop-color="#440154"/><stop offset="0.050" stop-color="#471365"/><stop offset="0.100" stop-color="#482475"/><stop offset="0.150" stop-color="#463480"/><stop offset="0.200" stop-color="#414487"/><stop offset="0.250" stop-color="#3b528b"/><stop offset="0.300" stop-color="#355f8d"/><stop offset="0.350" stop-color="#2f6c8e"/><stop offset="0.400" stop-color="#2a788e"/><stop offset="0.450" stop-color="#25848e"/><stop offset="0.500" stop-color="#21918c"/><stop offset="0.550" stop-color="#1e9c89"/><stop offset="0.600" stop-color="#22a884"/><stop offset="0.650" stop-color="#2fb47c"/><stop offset="0.700" stop-color="#44bf70"/><stop offset="0.750" stop-color="#5ec962"/><stop offset="0.800" stop-color="#7ad151"/><stop offset="0.850" stop-color="#9bd93c"/><stop offset="0.900" stop-color="#bddf26"/><stop offset="0.950" stop-color="#dfe318"/><stop offset="1.000" stop-color="#fde725"/></linearGradient></defs>
<rect x="223.2" y="121.1" width="5.8" height="175.2" fill="url(#cb)"/>
<line x1="229" y1="121.10" x2="231.6" y2="121.10" stroke="#444" stroke-width="0.8"/>
<text x="235.30" y="123.40" font-size="6.5" textLength="10.3" lengthAdjust="spacingAndGlyphs" fill="#333">100</text>
<line x1="229" y1="156.14" x2="231.6" y2="156.14" stroke="#444" stroke-width="0.8"/>
<text x="235.30" y="158.44" font-size="6.5" textLength="6.87" lengthAdjust="spacingAndGlyphs" fill="#333">80</text>
<line x1="229" y1="191.18" x2="231.6" y2="191.18" stroke="#444" stroke-width="0.8"/>
<text x="235.30" y="193.48" font-size="6.5" textLength="6.87" lengthAdjust="spacingAndGlyphs" fill="#333">60</text>
<line x1="229" y1="226.22" x2="231.6" y2="226.22" stroke="#444" stroke-width="0.8"/>
<text x="235.30" y="228.52" font-size="6.5" textLength="6.87" lengthAdjust="spacingAndGlyphs" fill="#333">40</text>
<line x1="229" y1="261.26" x2="231.6" y2="261.26" stroke="#444" stroke-width="0.8"/>
<text x="235.30" y="263.56" font-size="6.5" textLength="6.87" lengthAdjust="spacingAndGlyphs" fill="#333">20</text>
<line x1="229" y1="296.30" x2="231.6" y2="296.30" stroke="#444" stroke-width="0.8"/>
<text x="235.30" y="298.60" font-size="6.5" textLength="3.43" lengthAdjust="spacingAndGlyphs" fill="#333">0</text>
<text x="261.50" y="16.70" font-size="12.4" font-weight="bold" textLength="7.6" lengthAdjust="spacingAndGlyphs" fill="#111">B</text>
<circle cx="297.1" cy="20.00" r="1.4" fill="#0f2630"/>
<text x="302.20" y="22.30" font-size="6.6" textLength="39.31" lengthAdjust="spacingAndGlyphs" fill="#333">True negative</text>
<circle cx="297.1" cy="30.15" r="1.4" fill="#7a0f2c"/>
<text x="302.20" y="32.45" font-size="6.6" textLength="80.16" lengthAdjust="spacingAndGlyphs" fill="#333">False negative in SANQUIN</text>
<circle cx="297.1" cy="40.30" r="1.4" fill="#3f7a44"/>
<text x="302.20" y="42.60" font-size="6.6" textLength="102.1" lengthAdjust="spacingAndGlyphs" fill="#333">False positive and no-type in NYBC</text>
<circle cx="297.1" cy="50.45" r="1.4" fill="#c08440"/>
<text x="302.20" y="52.75" font-size="6.6" textLength="60.75" lengthAdjust="spacingAndGlyphs" fill="#333">No-type in SANQUIN</text>
<circle cx="297.1" cy="60.60" r="1.4" fill="#1e120a"/>
<text x="302.20" y="62.90" font-size="6.6" textLength="49.25" lengthAdjust="spacingAndGlyphs" fill="#333">No-type in NYBC</text>
<circle cx="297.1" cy="70.75" r="1.4" fill="#b8b8b8"/>
<text x="302.20" y="73.05" font-size="6.6" textLength="93.1" lengthAdjust="spacingAndGlyphs" fill="#333">No-type in SANQUIN and NYBC</text>
<circle cx="297.1" cy="80.90" r="1.4" fill="#8e1c52"/>
<text x="302.20" y="83.20" font-size="6.6" textLength="68.67" lengthAdjust="spacingAndGlyphs" fill="#333">False negative in NYBC</text>
<line x1="290.8" y1="26.4" x2="290.8" y2="192.1" stroke="#333" stroke-width="1.2"/>
<line x1="290.2" y1="191.5" x2="513.2" y2="191.5" stroke="#333" stroke-width="1.2"/>
<line x1="300.9" y1="191.5" x2="300.9" y2="194.3" stroke="#333" stroke-width="0.8"/>
<text x="300.90" y="204.20" font-size="6.5" text-anchor="middle" textLength="3.25" lengthAdjust="spacingAndGlyphs" fill="#333">0</text>
<line x1="340.6" y1="191.5" x2="340.6" y2="194.3" stroke="#333" stroke-width="0.8"/>
<text x="340.60" y="204.20" font-size="6.5" text-anchor="middle" textLength="3.25" lengthAdjust="spacingAndGlyphs" fill="#333">1</text>
<line x1="430.6" y1="191.5" x2="430.6" y2="194.3" stroke="#333" stroke-width="0.8"/>
<text x="430.60" y="204.20" font-size="6.5" text-anchor="middle" textLength="6.51" lengthAdjust="spacingAndGlyphs" fill="#333">10</text>
<line x1="502.5" y1="191.5" x2="502.5" y2="194.3" stroke="#333" stroke-width="0.8"/>
<text x="502.50" y="204.20" font-size="6.5" text-anchor="middle" textLength="9.76" lengthAdjust="spacingAndGlyphs" fill="#333">100</text>
<line x1="288.0" y1="184.8" x2="290.8" y2="184.8" stroke="#333" stroke-width="0.8"/>
<text x="284.60" y="187.10" font-size="6.5" text-anchor="end" textLength="3.25" lengthAdjust="spacingAndGlyphs" fill="#333">0</text>
<line x1="288.0" y1="154.4" x2="290.8" y2="154.4" stroke="#333" stroke-width="0.8"/>
<text x="284.60" y="156.70" font-size="6.5" text-anchor="end" textLength="3.25" lengthAdjust="spacingAndGlyphs" fill="#333">1</text>
<line x1="288.0" y1="87.7" x2="290.8" y2="87.7" stroke="#333" stroke-width="0.8"/>
<text x="284.60" y="90.00" font-size="6.5" text-anchor="end" textLength="6.51" lengthAdjust="spacingAndGlyphs" fill="#333">10</text>
<line x1="288.0" y1="33.8" x2="290.8" y2="33.8" stroke="#333" stroke-width="0.8"/>
<text x="284.60" y="36.10" font-size="6.5" text-anchor="end" textLength="9.76" lengthAdjust="spacingAndGlyphs" fill="#333">100</text>
<text x="401.80" y="215.80" font-size="9.2" text-anchor="middle" textLength="29.4" lengthAdjust="spacingAndGlyphs" fill="#222">SANQUIN</text>
<text x="0" y="0" font-size="9" fill="#222" text-anchor="middle" textLength="17" lengthAdjust="spacingAndGlyphs" transform="translate(268.9 108.8) rotate(-90)">NYBC</text>
<line x1="300.9" y1="184.8" x2="502.6" y2="33.8" stroke="#c4545e" stroke-width="0.9" stroke-dasharray="2.1 1.7"/>
<line x1="301.0" y1="144.5" x2="301.0" y2="152.4" stroke="#444" stroke-width="0.95"/>
<line x1="340.7" y1="156.4" x2="340.7" y2="167.0" stroke="#444" stroke-width="0.95"/>
<line x1="342.5" y1="184.8" x2="351.5" y2="184.8" stroke="#444" stroke-width="0.95"/>
<line x1="371.4" y1="125.2" x2="379.0" y2="125.2" stroke="#444" stroke-width="0.95"/>
<line x1="382.7" y1="154.8" x2="391.2" y2="154.8" stroke="#444" stroke-width="0.95"/>
<line x1="402.3" y1="111.2" x2="402.3" y2="121.5" stroke="#444" stroke-width="0.95"/>
<line x1="409.2" y1="91.0" x2="409.2" y2="101.8" stroke="#444" stroke-width="0.95"/>
<line x1="419.7" y1="97.8" x2="419.7" y2="108.5" stroke="#444" stroke-width="0.95"/>
<line x1="424.0" y1="78.0" x2="424.0" y2="90.8" stroke="#444" stroke-width="0.95"/>
<line x1="432.3" y1="89.9" x2="438.5" y2="89.9" stroke="#444" stroke-width="0.95"/>
<line x1="426.2" y1="99.7" x2="439.0" y2="99.7" stroke="#444" stroke-width="0.95"/>
<line x1="433.5" y1="62.8" x2="445.0" y2="62.8" stroke="#444" stroke-width="0.95"/>
<line x1="472.0" y1="57.7" x2="478.5" y2="57.7" stroke="#444" stroke-width="0.95"/>
<circle cx="301.0" cy="154.4" r="1.8" fill="#f29a2e"/>
<text x="301.20" y="142.50" font-size="6.7" textLength="20.78" lengthAdjust="spacingAndGlyphs" fill="#333">Lw (a–)</text>
<circle cx="340.7" cy="154.4" r="1.8" fill="#142a3c"/>
<text x="341.00" y="174.80" font-size="6.7" text-anchor="middle" textLength="20.43" lengthAdjust="spacingAndGlyphs" fill="#333">Di ( b–)</text>
<circle cx="340.7" cy="184.8" r="1.8" fill="#2b1708"/>
<text x="353.00" y="187.00" font-size="6.7" textLength="18.7" lengthAdjust="spacingAndGlyphs" fill="#333">Kp(b–)</text>
<circle cx="380.8" cy="125.2" r="1.8" fill="#142a3c"/>
<text x="369.50" y="127.40" font-size="6.7" text-anchor="end" textLength="11.08" lengthAdjust="spacingAndGlyphs" fill="#333">Hy–</text>
<circle cx="380.9" cy="154.8" r="1.8" fill="#a0142e"/>
<text x="392.80" y="157.00" font-size="6.7" textLength="12.13" lengthAdjust="spacingAndGlyphs" fill="#333">Vel–</text>
<circle cx="402.3" cy="103.8" r="1.8" fill="#c21d5e"/>
<text x="397.80" y="106.00" font-size="6.7" text-anchor="end" textLength="7.97" lengthAdjust="spacingAndGlyphs" fill="#333">U–</text>
<circle cx="402.3" cy="109.2" r="1.8" fill="#142a3c"/>
<text x="402.30" y="130.30" font-size="6.7" text-anchor="middle" textLength="18.7" lengthAdjust="spacingAndGlyphs" fill="#333">Kn(a–)</text>
<circle cx="409.2" cy="103.8" r="1.8" fill="#142a3c"/>
<text x="409.20" y="87.60" font-size="6.7" text-anchor="middle" textLength="24.24" lengthAdjust="spacingAndGlyphs" fill="#333">Jk(a–b–)</text>
<circle cx="419.7" cy="95.8" r="1.8" fill="#142a3c"/>
<text x="419.70" y="117.00" font-size="6.7" text-anchor="middle" textLength="17.66" lengthAdjust="spacingAndGlyphs" fill="#333">Jo(a–)</text>
<circle cx="424.0" cy="92.8" r="1.8" fill="#142a3c"/>
<text x="423.80" y="75.00" font-size="6.7" text-anchor="middle" textLength="17.31" lengthAdjust="spacingAndGlyphs" fill="#333">Js(b–)</text>
<circle cx="430.3" cy="89.9" r="1.8" fill="#c8c8c8"/>
<text x="441.00" y="92.10" font-size="6.7" textLength="16.97" lengthAdjust="spacingAndGlyphs" fill="#333">Yt(a–)</text>
<circle cx="424.2" cy="99.7" r="1.8" fill="#4a9a4c"/>
<text x="441.30" y="101.90" font-size="6.7" textLength="18.01" lengthAdjust="spacingAndGlyphs" fill="#333">Lu(b–)</text>
<circle cx="447.2" cy="62.8" r="1.8" fill="#c21d5e"/>
<text x="430.80" y="65.00" font-size="6.7" text-anchor="end" textLength="19.05" lengthAdjust="spacingAndGlyphs" fill="#333">Co(a–)</text>
<circle cx="470.0" cy="57.7" r="1.8" fill="#f29a2e"/>
<text x="480.00" y="59.90" font-size="6.7" textLength="6.58" lengthAdjust="spacingAndGlyphs" fill="#333">k–</text>
<text x="261.40" y="242.80" font-size="12.2" font-weight="bold" textLength="7.7" lengthAdjust="spacingAndGlyphs" fill="#111">C</text>
<text x="293.00" y="257.25" font-size="6.6" text-anchor="end" textLength="7.85" lengthAdjust="spacingAndGlyphs" fill="#333">U–</text>
<line x1="296.6" y1="254.95" x2="299.5" y2="254.95" stroke="#222" stroke-width="0.8"/>
<rect x="299.50" y="252.15" width="99.20" height="5.6" fill="#9a86c6"/>
<text x="349.10" y="257.05" font-size="6.0" text-anchor="middle" textLength="6.34" lengthAdjust="spacingAndGlyphs" fill="#fff">20</text>
<rect x="398.70" y="252.15" width="4.96" height="5.6" fill="#f6c02c"/>
<text x="401.18" y="257.05" font-size="6.0" text-anchor="middle" textLength="3.17" lengthAdjust="spacingAndGlyphs" fill="#333">1</text>
<text x="405.66" y="257.05" font-size="6.0" textLength="6.34" lengthAdjust="spacingAndGlyphs" fill="#333">21</text>
<text x="293.00" y="268.28" font-size="6.6" text-anchor="end" textLength="19.45" lengthAdjust="spacingAndGlyphs" fill="#333">Lu (b–)</text>
<line x1="296.6" y1="265.98" x2="299.5" y2="265.98" stroke="#222" stroke-width="0.8"/>
<rect x="299.50" y="263.18" width="39.68" height="5.6" fill="#9a86c6"/>
<text x="319.34" y="268.08" font-size="6.0" text-anchor="middle" textLength="3.17" lengthAdjust="spacingAndGlyphs" fill="#fff">8</text>
<rect x="339.18" y="263.18" width="19.84" height="5.6" fill="#2aa9e0"/>
<text x="349.10" y="268.08" font-size="6.0" text-anchor="middle" textLength="3.17" lengthAdjust="spacingAndGlyphs" fill="#fff">4</text>
<rect x="359.02" y="263.18" width="24.80" height="5.6" fill="#f6c02c"/>
<text x="371.42" y="268.08" font-size="6.0" text-anchor="middle" textLength="3.17" lengthAdjust="spacingAndGlyphs" fill="#333">5</text>
<rect x="383.82" y="263.18" width="4.96" height="5.6" fill="#3aa846"/>
<text x="386.30" y="268.08" font-size="6.0" text-anchor="middle" textLength="3.17" lengthAdjust="spacingAndGlyphs" fill="#fff">1</text>
<text x="390.78" y="268.08" font-size="6.0" textLength="6.34" lengthAdjust="spacingAndGlyphs" fill="#333">18</text>
<text x="293.00" y="279.31" font-size="6.6" text-anchor="end" textLength="6.48" lengthAdjust="spacingAndGlyphs" fill="#333">k–</text>
<line x1="296.6" y1="277.01" x2="299.5" y2="277.01" stroke="#222" stroke-width="0.8"/>
<rect x="299.50" y="274.21" width="49.60" height="5.6" fill="#9a86c6"/>
<text x="324.30" y="279.11" font-size="6.0" text-anchor="middle" textLength="6.34" lengthAdjust="spacingAndGlyphs" fill="#fff">10</text>
<rect x="349.10" y="274.21" width="138.88" height="5.6" fill="#f18d1e"/>
<text x="418.54" y="279.11" font-size="6.0" text-anchor="middle" textLength="6.34" lengthAdjust="spacingAndGlyphs" fill="#333">28</text>
<text x="489.98" y="279.11" font-size="6.0" textLength="6.34" lengthAdjust="spacingAndGlyphs" fill="#333">38</text>
<text x="293.00" y="290.34" font-size="6.6" text-anchor="end" textLength="18.42" lengthAdjust="spacingAndGlyphs" fill="#333">Kp(b–)</text>
<line x1="296.6" y1="288.04" x2="299.5" y2="288.04" stroke="#222" stroke-width="0.8"/>
<rect x="299.50" y="285.24" width="124.00" height="5.6" fill="#9a86c6"/>
<text x="361.50" y="290.14" font-size="6.0" text-anchor="middle" textLength="6.34" lengthAdjust="spacingAndGlyphs" fill="#fff">25</text>
<rect x="423.50" y="285.24" width="4.96" height="5.6" fill="#2aa9e0"/>
<text x="425.98" y="290.14" font-size="6.0" text-anchor="middle" textLength="3.17" lengthAdjust="spacingAndGlyphs" fill="#fff">1</text>
<rect x="428.46" y="285.24" width="29.76" height="5.6" fill="#f6c02c"/>
<text x="443.34" y="290.14" font-size="6.0" text-anchor="middle" textLength="3.17" lengthAdjust="spacingAndGlyphs" fill="#333">6</text>
<text x="460.22" y="290.14" font-size="6.0" textLength="6.34" lengthAdjust="spacingAndGlyphs" fill="#333">32</text>
<text x="293.00" y="301.37" font-size="6.6" text-anchor="end" textLength="17.05" lengthAdjust="spacingAndGlyphs" fill="#333">Js(b–)</text>
<line x1="296.6" y1="299.07" x2="299.5" y2="299.07" stroke="#222" stroke-width="0.8"/>
<rect x="299.50" y="296.27" width="49.60" height="5.6" fill="#9a86c6"/>
<text x="324.30" y="301.17" font-size="6.0" text-anchor="middle" textLength="6.34" lengthAdjust="spacingAndGlyphs" fill="#fff">10</text>
<rect x="349.10" y="296.27" width="14.88" height="5.6" fill="#2aa9e0"/>
<text x="356.54" y="301.17" font-size="6.0" text-anchor="middle" textLength="3.17" lengthAdjust="spacingAndGlyphs" fill="#fff">3</text>
<text x="365.98" y="301.17" font-size="6.0" textLength="6.34" lengthAdjust="spacingAndGlyphs" fill="#333">13</text>
<text x="293.00" y="312.40" font-size="6.6" text-anchor="end" textLength="16.71" lengthAdjust="spacingAndGlyphs" fill="#333">Di(b–)</text>
<line x1="296.6" y1="310.10" x2="299.5" y2="310.10" stroke="#222" stroke-width="0.8"/>
<rect x="299.50" y="307.30" width="9.92" height="5.6" fill="#9a86c6"/>
<text x="304.46" y="312.20" font-size="6.0" text-anchor="middle" textLength="3.17" lengthAdjust="spacingAndGlyphs" fill="#fff">2</text>
<rect x="309.42" y="307.30" width="4.96" height="5.6" fill="#2aa9e0"/>
<text x="311.90" y="312.20" font-size="6.0" text-anchor="middle" textLength="3.17" lengthAdjust="spacingAndGlyphs" fill="#fff">1</text>
<rect x="314.38" y="307.30" width="4.96" height="5.6" fill="#3aa846"/>
<text x="316.86" y="312.20" font-size="6.0" text-anchor="middle" textLength="3.17" lengthAdjust="spacingAndGlyphs" fill="#fff">1</text>
<text x="321.34" y="312.20" font-size="6.0" textLength="3.17" lengthAdjust="spacingAndGlyphs" fill="#333">4</text>
<text x="293.00" y="323.43" font-size="6.6" text-anchor="end" textLength="18.64" lengthAdjust="spacingAndGlyphs" fill="#333">Wr(b–)</text>
<line x1="296.6" y1="321.13" x2="299.5" y2="321.13" stroke="#222" stroke-width="0.8"/>
<rect x="299.50" y="318.33" width="29.76" height="5.6" fill="#9a86c6"/>
<text x="314.38" y="323.23" font-size="6.0" text-anchor="middle" textLength="3.17" lengthAdjust="spacingAndGlyphs" fill="#fff">6</text>
<text x="331.26" y="323.23" font-size="6.0" textLength="3.17" lengthAdjust="spacingAndGlyphs" fill="#333">6</text>
<text x="293.00" y="334.46" font-size="6.6" text-anchor="end" textLength="16.71" lengthAdjust="spacingAndGlyphs" fill="#333">Yt(a–)</text>
<line x1="296.6" y1="332.16" x2="299.5" y2="332.16" stroke="#222" stroke-width="0.8"/>
<rect x="299.50" y="329.36" width="9.92" height="5.6" fill="#9a86c6"/>
<text x="304.46" y="334.26" font-size="6.0" text-anchor="middle" textLength="3.17" lengthAdjust="spacingAndGlyphs" fill="#fff">2</text>
<rect x="309.42" y="329.36" width="49.60" height="5.6" fill="#2aa9e0"/>
<text x="334.22" y="334.26" font-size="6.0" text-anchor="middle" textLength="6.34" lengthAdjust="spacingAndGlyphs" fill="#fff">10</text>
<text x="361.02" y="334.26" font-size="6.0" textLength="6.34" lengthAdjust="spacingAndGlyphs" fill="#333">12</text>
<text x="293.00" y="345.49" font-size="6.6" text-anchor="end" textLength="13.99" lengthAdjust="spacingAndGlyphs" fill="#333">Sc1–</text>
<line x1="296.6" y1="343.19" x2="299.5" y2="343.19" stroke="#222" stroke-width="0.8"/>
<rect x="299.50" y="340.39" width="19.84" height="5.6" fill="#9a86c6"/>
<text x="309.42" y="345.29" font-size="6.0" text-anchor="middle" textLength="3.17" lengthAdjust="spacingAndGlyphs" fill="#fff">4</text>
<text x="321.34" y="345.29" font-size="6.0" textLength="3.17" lengthAdjust="spacingAndGlyphs" fill="#333">4</text>
<text x="293.00" y="356.52" font-size="6.6" text-anchor="end" textLength="10.92" lengthAdjust="spacingAndGlyphs" fill="#333">Hy–</text>
<line x1="296.6" y1="354.22" x2="299.5" y2="354.22" stroke="#222" stroke-width="0.8"/>
<rect x="299.50" y="351.42" width="29.76" height="5.6" fill="#9a86c6"/>
<text x="314.38" y="356.32" font-size="6.0" text-anchor="middle" textLength="3.17" lengthAdjust="spacingAndGlyphs" fill="#fff">6</text>
<rect x="329.26" y="351.42" width="4.96" height="5.6" fill="#2aa9e0"/>
<text x="331.74" y="356.32" font-size="6.0" text-anchor="middle" textLength="3.17" lengthAdjust="spacingAndGlyphs" fill="#fff">1</text>
<text x="336.22" y="356.32" font-size="6.0" textLength="3.17" lengthAdjust="spacingAndGlyphs" fill="#333">7</text>
<text x="293.00" y="367.55" font-size="6.6" text-anchor="end" textLength="17.4" lengthAdjust="spacingAndGlyphs" fill="#333">Jo(a)–</text>
<line x1="296.6" y1="365.25" x2="299.5" y2="365.25" stroke="#222" stroke-width="0.8"/>
<rect x="299.50" y="362.45" width="39.68" height="5.6" fill="#9a86c6"/>
<text x="319.34" y="367.35" font-size="6.0" text-anchor="middle" textLength="3.17" lengthAdjust="spacingAndGlyphs" fill="#fff">8</text>
<rect x="339.18" y="362.45" width="19.84" height="5.6" fill="#2aa9e0"/>
<text x="349.10" y="367.35" font-size="6.0" text-anchor="middle" textLength="3.17" lengthAdjust="spacingAndGlyphs" fill="#fff">4</text>
<rect x="359.02" y="362.45" width="4.96" height="5.6" fill="#3aa846"/>
<text x="361.50" y="367.35" font-size="6.0" text-anchor="middle" textLength="3.17" lengthAdjust="spacingAndGlyphs" fill="#fff">1</text>
<text x="365.98" y="367.35" font-size="6.0" textLength="6.34" lengthAdjust="spacingAndGlyphs" fill="#333">13</text>
<text x="293.00" y="378.58" font-size="6.6" text-anchor="end" textLength="18.76" lengthAdjust="spacingAndGlyphs" fill="#333">Co(a–)</text>
<line x1="296.6" y1="376.28" x2="299.5" y2="376.28" stroke="#222" stroke-width="0.8"/>
<rect x="299.50" y="373.48" width="44.64" height="5.6" fill="#9a86c6"/>
<text x="321.82" y="378.38" font-size="6.0" text-anchor="middle" textLength="3.17" lengthAdjust="spacingAndGlyphs" fill="#fff">9</text>
<rect x="344.14" y="373.48" width="49.60" height="5.6" fill="#2aa9e0"/>
<text x="368.94" y="378.38" font-size="6.0" text-anchor="middle" textLength="6.34" lengthAdjust="spacingAndGlyphs" fill="#fff">10</text>
<rect x="393.74" y="373.48" width="29.76" height="5.6" fill="#f18d1e"/>
<text x="408.62" y="378.38" font-size="6.0" text-anchor="middle" textLength="3.17" lengthAdjust="spacingAndGlyphs" fill="#333">6</text>
<rect x="423.50" y="373.48" width="64.48" height="5.6" fill="#f6c02c"/>
<text x="455.74" y="378.38" font-size="6.0" text-anchor="middle" textLength="6.34" lengthAdjust="spacingAndGlyphs" fill="#333">13</text>
<text x="489.98" y="378.38" font-size="6.0" textLength="6.34" lengthAdjust="spacingAndGlyphs" fill="#333">38</text>
<text x="293.00" y="389.61" font-size="6.6" text-anchor="end" textLength="19.67" lengthAdjust="spacingAndGlyphs" fill="#333">LW(a–)</text>
<line x1="296.6" y1="387.31" x2="299.5" y2="387.31" stroke="#222" stroke-width="0.8"/>
<rect x="299.50" y="384.51" width="24.80" height="5.6" fill="#9a86c6"/>
<text x="311.90" y="389.41" font-size="6.0" text-anchor="middle" textLength="3.17" lengthAdjust="spacingAndGlyphs" fill="#fff">5</text>
<rect x="324.30" y="384.51" width="9.92" height="5.6" fill="#3aa846"/>
<text x="329.26" y="389.41" font-size="6.0" text-anchor="middle" textLength="3.17" lengthAdjust="spacingAndGlyphs" fill="#fff">2</text>
<text x="336.22" y="389.41" font-size="6.0" textLength="3.17" lengthAdjust="spacingAndGlyphs" fill="#333">7</text>
<text x="293.00" y="400.64" font-size="6.6" text-anchor="end" textLength="17.39" lengthAdjust="spacingAndGlyphs" fill="#333">Cr(a–)</text>
<line x1="296.6" y1="398.34" x2="299.5" y2="398.34" stroke="#222" stroke-width="0.8"/>
<rect x="299.50" y="395.54" width="14.88" height="5.6" fill="#9a86c6"/>
<text x="306.94" y="400.44" font-size="6.0" text-anchor="middle" textLength="3.17" lengthAdjust="spacingAndGlyphs" fill="#fff">3</text>
<rect x="314.38" y="395.54" width="9.92" height="5.6" fill="#f6c02c"/>
<text x="319.34" y="400.44" font-size="6.0" text-anchor="middle" textLength="3.17" lengthAdjust="spacingAndGlyphs" fill="#333">2</text>
<text x="326.30" y="400.44" font-size="6.0" textLength="3.17" lengthAdjust="spacingAndGlyphs" fill="#333">5</text>
<text x="293.00" y="411.67" font-size="6.6" text-anchor="end" textLength="18.42" lengthAdjust="spacingAndGlyphs" fill="#333">Kn(a–)</text>
<line x1="296.6" y1="409.37" x2="299.5" y2="409.37" stroke="#222" stroke-width="0.8"/>
<rect x="299.50" y="406.57" width="14.88" height="5.6" fill="#9a86c6"/>
<text x="306.94" y="411.47" font-size="6.0" text-anchor="middle" textLength="3.17" lengthAdjust="spacingAndGlyphs" fill="#fff">3</text>
<rect x="314.38" y="406.57" width="19.84" height="5.6" fill="#2aa9e0"/>
<text x="324.30" y="411.47" font-size="6.0" text-anchor="middle" textLength="3.17" lengthAdjust="spacingAndGlyphs" fill="#fff">4</text>
<rect x="334.22" y="406.57" width="9.92" height="5.6" fill="#f6c02c"/>
<text x="339.18" y="411.47" font-size="6.0" text-anchor="middle" textLength="3.17" lengthAdjust="spacingAndGlyphs" fill="#333">2</text>
<text x="346.14" y="411.47" font-size="6.0" textLength="3.17" lengthAdjust="spacingAndGlyphs" fill="#333">9</text>
<text x="293.00" y="422.70" font-size="6.6" text-anchor="end" textLength="11.95" lengthAdjust="spacingAndGlyphs" fill="#333">Vel–</text>
<line x1="296.6" y1="420.40" x2="299.5" y2="420.40" stroke="#222" stroke-width="0.8"/>
<rect x="299.50" y="417.60" width="69.44" height="5.6" fill="#9a86c6"/>
<text x="334.22" y="422.50" font-size="6.0" text-anchor="middle" textLength="6.34" lengthAdjust="spacingAndGlyphs" fill="#fff">14</text>
<rect x="368.94" y="417.60" width="4.96" height="5.6" fill="#2aa9e0"/>
<text x="371.42" y="422.50" font-size="6.0" text-anchor="middle" textLength="3.17" lengthAdjust="spacingAndGlyphs" fill="#fff">1</text>
<rect x="373.90" y="417.60" width="4.96" height="5.6" fill="#f6c02c"/>
<text x="376.38" y="422.50" font-size="6.0" text-anchor="middle" textLength="3.17" lengthAdjust="spacingAndGlyphs" fill="#333">1</text>
<rect x="378.86" y="417.60" width="9.92" height="5.6" fill="#3aa846"/>
<text x="383.82" y="422.50" font-size="6.0" text-anchor="middle" textLength="3.17" lengthAdjust="spacingAndGlyphs" fill="#fff">2</text>
<text x="390.78" y="422.50" font-size="6.0" textLength="6.34" lengthAdjust="spacingAndGlyphs" fill="#333">18</text>
<line x1="299.6" y1="244" x2="299.6" y2="433.2" stroke="#222" stroke-width="1.1"/>
<line x1="299.0" y1="432.6" x2="487.7" y2="432.6" stroke="#222" stroke-width="1.1"/>
<line x1="299.50" y1="432.6" x2="299.50" y2="435.3" stroke="#222" stroke-width="0.8"/>
<text x="299.50" y="443.90" font-size="6.6" text-anchor="middle" textLength="3.38" lengthAdjust="spacingAndGlyphs" fill="#333">0</text>
<line x1="324.30" y1="432.6" x2="324.30" y2="435.3" stroke="#222" stroke-width="0.8"/>
<text x="324.30" y="443.90" font-size="6.6" text-anchor="middle" textLength="3.38" lengthAdjust="spacingAndGlyphs" fill="#333">5</text>
<line x1="349.10" y1="432.6" x2="349.10" y2="435.3" stroke="#222" stroke-width="0.8"/>
<text x="349.10" y="443.90" font-size="6.6" text-anchor="middle" textLength="6.75" lengthAdjust="spacingAndGlyphs" fill="#333">10</text>
<line x1="373.90" y1="432.6" x2="373.90" y2="435.3" stroke="#222" stroke-width="0.8"/>
<text x="373.90" y="443.90" font-size="6.6" text-anchor="middle" textLength="6.75" lengthAdjust="spacingAndGlyphs" fill="#333">15</text>
<line x1="398.70" y1="432.6" x2="398.70" y2="435.3" stroke="#222" stroke-width="0.8"/>
<text x="398.70" y="443.90" font-size="6.6" text-anchor="middle" textLength="6.75" lengthAdjust="spacingAndGlyphs" fill="#333">20</text>
<line x1="423.50" y1="432.6" x2="423.50" y2="435.3" stroke="#222" stroke-width="0.8"/>
<text x="423.50" y="443.90" font-size="6.6" text-anchor="middle" textLength="6.75" lengthAdjust="spacingAndGlyphs" fill="#333">25</text>
<line x1="448.30" y1="432.6" x2="448.30" y2="435.3" stroke="#222" stroke-width="0.8"/>
<text x="448.30" y="443.90" font-size="6.6" text-anchor="middle" textLength="6.75" lengthAdjust="spacingAndGlyphs" fill="#333">30</text>
<line x1="473.10" y1="432.6" x2="473.10" y2="435.3" stroke="#222" stroke-width="0.8"/>
<text x="473.10" y="443.90" font-size="6.6" text-anchor="middle" textLength="6.75" lengthAdjust="spacingAndGlyphs" fill="#333">35</text>
<text x="393.80" y="456.20" font-size="9.0" text-anchor="middle" textLength="18" lengthAdjust="spacingAndGlyphs" fill="#333">Count</text>
<text x="0" y="0" font-size="9" fill="#333" text-anchor="middle" textLength="13.2" lengthAdjust="spacingAndGlyphs" transform="translate(270.3 337.4) rotate(-90)">Type</text>
<rect x="413.7" y="307.90" width="6.2" height="6.2" fill="#9a86c6"/>
<text x="422.90" y="313.50" font-size="7.1" textLength="70.11" lengthAdjust="spacingAndGlyphs" fill="#333">Concordant with clinical</text>
<rect x="413.7" y="318.20" width="6.2" height="6.2" fill="#2aa9e0"/>
<text x="422.90" y="323.80" font-size="7.1" textLength="79.75" lengthAdjust="spacingAndGlyphs" fill="#333">Array Detected - confirmed</text>
<rect x="413.7" y="328.50" width="6.2" height="6.2" fill="#f18d1e"/>
<text x="422.90" y="334.10" font-size="7.1" textLength="87.17" lengthAdjust="spacingAndGlyphs" fill="#333">Array Detected - unconfirmed</text>
<rect x="413.7" y="338.80" width="6.2" height="6.2" fill="#f6c02c"/>
<text x="422.90" y="344.40" font-size="7.1" textLength="43.41" lengthAdjust="spacingAndGlyphs" fill="#333">False negative</text>
<rect x="413.7" y="349.10" width="6.2" height="6.2" fill="#3aa846"/>
<text x="422.90" y="354.70" font-size="7.1" textLength="23.37" lengthAdjust="spacingAndGlyphs" fill="#333">No-type</text>
<text x="81.90" y="480.30" font-size="12.2" font-weight="bold" textLength="8.7" lengthAdjust="spacingAndGlyphs" fill="#111">D</text>
<defs><pattern id="hat" width="2.5" height="2.5" patternUnits="userSpaceOnUse" patternTransform="rotate(38)"><rect width="2.5" height="2.5" fill="#fbfbfb"/><line x1="0.6" y1="0" x2="0.6" y2="2.5" stroke="#a0a0a0" stroke-width="0.7"/></pattern></defs>
<text x="174.50" y="489.30" font-size="6.9" text-anchor="middle" textLength="3.65" lengthAdjust="spacingAndGlyphs" fill="#333">1</text>
<text x="184.50" y="489.30" font-size="6.9" text-anchor="middle" textLength="3.65" lengthAdjust="spacingAndGlyphs" fill="#333">2</text>
<text x="195.50" y="489.30" font-size="6.9" text-anchor="middle" textLength="3.65" lengthAdjust="spacingAndGlyphs" fill="#333">3</text>
<text x="205.50" y="489.30" font-size="6.9" text-anchor="middle" textLength="3.65" lengthAdjust="spacingAndGlyphs" fill="#333">4</text>
<text x="216.50" y="489.30" font-size="6.9" text-anchor="middle" textLength="3.65" lengthAdjust="spacingAndGlyphs" fill="#333">5</text>
<text x="226.50" y="489.30" font-size="6.9" text-anchor="middle" textLength="3.65" lengthAdjust="spacingAndGlyphs" fill="#333">6</text>
<text x="237.50" y="489.30" font-size="6.9" text-anchor="middle" textLength="3.65" lengthAdjust="spacingAndGlyphs" fill="#333">7</text>
<text x="247.50" y="489.30" font-size="6.9" text-anchor="middle" textLength="3.65" lengthAdjust="spacingAndGlyphs" fill="#333">8</text>
<text x="257.50" y="489.30" font-size="6.9" text-anchor="middle" textLength="3.65" lengthAdjust="spacingAndGlyphs" fill="#333">9</text>
<text x="268.50" y="489.30" font-size="6.9" text-anchor="middle" textLength="7.29" lengthAdjust="spacingAndGlyphs" fill="#333">10</text>
<text x="107.90" y="503.50" font-size="7.0" textLength="28.58" lengthAdjust="spacingAndGlyphs" fill="#333">D positive</text>
<rect x="156.50" y="496.50" width="8" height="11" rx="0.4" fill="url(#hat)" stroke="#888" stroke-width="0.85"/>
<rect x="170.50" y="493.50" width="8.0" height="16.0" rx="0.4" fill="#fff" stroke="#7c7c7c" stroke-width="0.85"/>
<rect x="180.50" y="493.50" width="8.0" height="16.0" rx="0.4" fill="#fff" stroke="#7c7c7c" stroke-width="0.85"/>
<rect x="191.50" y="493.50" width="8.0" height="16.0" rx="0.4" fill="#fff" stroke="#7c7c7c" stroke-width="0.85"/>
<rect x="201.50" y="493.50" width="8.0" height="16.0" rx="0.4" fill="#fff" stroke="#7c7c7c" stroke-width="0.85"/>
<rect x="212.50" y="493.50" width="8.0" height="16.0" rx="0.4" fill="#fff" stroke="#7c7c7c" stroke-width="0.85"/>
<rect x="222.50" y="493.50" width="8.0" height="16.0" rx="0.4" fill="#fff" stroke="#7c7c7c" stroke-width="0.85"/>
<rect x="233.50" y="493.50" width="8.0" height="16.0" rx="0.4" fill="#fff" stroke="#7c7c7c" stroke-width="0.85"/>
<rect x="243.50" y="493.50" width="8.0" height="16.0" rx="0.4" fill="#fff" stroke="#7c7c7c" stroke-width="0.85"/>
<rect x="253.50" y="493.50" width="8.0" height="16.0" rx="0.4" fill="#fff" stroke="#7c7c7c" stroke-width="0.85"/>
<rect x="264.50" y="493.50" width="8.0" height="16.0" rx="0.4" fill="#fff" stroke="#7c7c7c" stroke-width="0.85"/>
<rect x="280.50" y="496.50" width="8" height="11" rx="0.4" fill="url(#hat)" stroke="#888" stroke-width="0.85"/>
<text x="107.90" y="523.60" font-size="7.0" textLength="42.58" lengthAdjust="spacingAndGlyphs" fill="#333">Weak D type 1</text>
<rect x="156.50" y="516.50" width="8" height="11" rx="0.4" fill="url(#hat)" stroke="#888" stroke-width="0.85"/>
<rect x="170.50" y="513.50" width="8.0" height="16.0" rx="0.4" fill="#fff" stroke="#7c7c7c" stroke-width="0.85"/>
<rect x="180.50" y="513.50" width="8.0" height="16.0" rx="0.4" fill="#fff" stroke="#7c7c7c" stroke-width="0.85"/>
<rect x="191.50" y="513.50" width="8.0" height="16.0" rx="0.4" fill="#fff" stroke="#7c7c7c" stroke-width="0.85"/>
<rect x="201.50" y="513.50" width="8.0" height="16.0" rx="0.4" fill="#fff" stroke="#7c7c7c" stroke-width="0.85"/>
<rect x="212.50" y="513.50" width="8.0" height="16.0" rx="0.4" fill="#fff" stroke="#7c7c7c" stroke-width="0.85"/>
<rect x="222.50" y="513.50" width="8.0" height="16.0" rx="0.4" fill="#fff" stroke="#7c7c7c" stroke-width="0.85"/>
<rect x="233.50" y="513.50" width="8.0" height="16.0" rx="0.4" fill="#fff" stroke="#7c7c7c" stroke-width="0.85"/>
<rect x="243.50" y="513.50" width="8.0" height="16.0" rx="0.4" fill="#fff" stroke="#7c7c7c" stroke-width="0.85"/>
<rect x="253.50" y="513.50" width="8.0" height="16.0" rx="0.4" fill="#fff" stroke="#7c7c7c" stroke-width="0.85"/>
<rect x="264.50" y="513.50" width="8.0" height="16.0" rx="0.4" fill="#fff" stroke="#7c7c7c" stroke-width="0.85"/>
<rect x="280.50" y="516.50" width="8" height="11" rx="0.4" fill="url(#hat)" stroke="#888" stroke-width="0.85"/>
<text x="107.90" y="543.50" font-size="7.0" textLength="42.58" lengthAdjust="spacingAndGlyphs" fill="#333">Weak D type 2</text>
<rect x="156.50" y="536.50" width="8" height="11" rx="0.4" fill="url(#hat)" stroke="#888" stroke-width="0.85"/>
<rect x="170.50" y="533.50" width="8.0" height="16.0" rx="0.4" fill="#fff" stroke="#7c7c7c" stroke-width="0.85"/>
<rect x="180.50" y="533.50" width="8.0" height="16.0" rx="0.4" fill="#fff" stroke="#7c7c7c" stroke-width="0.85"/>
<rect x="191.50" y="533.50" width="8.0" height="16.0" rx="0.4" fill="#fff" stroke="#7c7c7c" stroke-width="0.85"/>
<rect x="201.50" y="533.50" width="8.0" height="16.0" rx="0.4" fill="#fff" stroke="#7c7c7c" stroke-width="0.85"/>
<rect x="212.50" y="533.50" width="8.0" height="16.0" rx="0.4" fill="#fff" stroke="#7c7c7c" stroke-width="0.85"/>
<rect x="222.50" y="533.50" width="8.0" height="16.0" rx="0.4" fill="#fff" stroke="#7c7c7c" stroke-width="0.85"/>
<rect x="233.50" y="533.50" width="8.0" height="16.0" rx="0.4" fill="#fff" stroke="#7c7c7c" stroke-width="0.85"/>
<rect x="243.50" y="533.50" width="8.0" height="16.0" rx="0.4" fill="#fff" stroke="#7c7c7c" stroke-width="0.85"/>
<rect x="253.50" y="533.50" width="8.0" height="16.0" rx="0.4" fill="#fff" stroke="#7c7c7c" stroke-width="0.85"/>
<rect x="264.50" y="533.50" width="8.0" height="16.0" rx="0.4" fill="#fff" stroke="#7c7c7c" stroke-width="0.85"/>
<rect x="280.50" y="536.50" width="8" height="11" rx="0.4" fill="url(#hat)" stroke="#888" stroke-width="0.85"/>
<text x="107.90" y="563.30" font-size="7.0" textLength="42.58" lengthAdjust="spacingAndGlyphs" fill="#333">Weak D type 3</text>
<rect x="156.50" y="555.50" width="8" height="11" rx="0.4" fill="url(#hat)" stroke="#888" stroke-width="0.85"/>
<rect x="170.50" y="553.50" width="8.0" height="16.0" rx="0.4" fill="#fff" stroke="#7c7c7c" stroke-width="0.85"/>
<rect x="180.50" y="553.50" width="8.0" height="16.0" rx="0.4" fill="#fff" stroke="#7c7c7c" stroke-width="0.85"/>
<rect x="191.50" y="553.50" width="8.0" height="16.0" rx="0.4" fill="#fff" stroke="#7c7c7c" stroke-width="0.85"/>
<rect x="201.50" y="553.50" width="8.0" height="16.0" rx="0.4" fill="#fff" stroke="#7c7c7c" stroke-width="0.85"/>
<rect x="212.50" y="553.50" width="8.0" height="16.0" rx="0.4" fill="#fff" stroke="#7c7c7c" stroke-width="0.85"/>
<rect x="222.50" y="553.50" width="8.0" height="16.0" rx="0.4" fill="#fff" stroke="#7c7c7c" stroke-width="0.85"/>
<rect x="233.50" y="553.50" width="8.0" height="16.0" rx="0.4" fill="#fff" stroke="#7c7c7c" stroke-width="0.85"/>
<rect x="243.50" y="553.50" width="8.0" height="16.0" rx="0.4" fill="#fff" stroke="#7c7c7c" stroke-width="0.85"/>
<rect x="253.50" y="553.50" width="8.0" height="16.0" rx="0.4" fill="#fff" stroke="#7c7c7c" stroke-width="0.85"/>
<rect x="264.50" y="553.50" width="8.0" height="16.0" rx="0.4" fill="#fff" stroke="#7c7c7c" stroke-width="0.85"/>
<rect x="280.50" y="555.50" width="8" height="11" rx="0.4" fill="url(#hat)" stroke="#888" stroke-width="0.85"/>
<line x1="224.50" y1="513.50" x2="224.50" y2="529.50" stroke="#333" stroke-width="0.75"/>
<circle cx="224.90" cy="521.20" r="1.1" fill="#111"/>
<line x1="255.50" y1="533.50" x2="255.50" y2="549.50" stroke="#333" stroke-width="0.75"/>
<circle cx="255.90" cy="541.10" r="1.1" fill="#111"/>
<line x1="171.50" y1="553.50" x2="171.50" y2="569.50" stroke="#333" stroke-width="0.8"/>
<circle cx="172.10" cy="560.90" r="1.1" fill="#111"/>
<text x="107.90" y="591.30" font-size="7.0" textLength="31.12" lengthAdjust="spacingAndGlyphs" fill="#333">D negative</text>
<rect x="156.5" y="583.5" width="5" height="11" rx="0.4" fill="url(#hat)" stroke="#7a7a7a" stroke-width="0.9"/>
<rect x="283.5" y="583.5" width="5" height="11" rx="0.4" fill="url(#hat)" stroke="#7a7a7a" stroke-width="0.9"/>
<line x1="163.5" y1="588.6" x2="281.5" y2="588.6" stroke="#6a6a6a" stroke-width="1" stroke-dasharray="2 1.9"/>
<text x="107.90" y="609.60" font-size="7.0" textLength="4.47" lengthAdjust="spacingAndGlyphs" fill="#333">r″</text>
<rect x="156.50" y="602.50" width="8" height="11" rx="0.4" fill="url(#hat)" stroke="#888" stroke-width="0.85"/>
<rect x="170.50" y="599.50" width="8.0" height="16.0" rx="0.4" fill="#fff" stroke="#7c7c7c" stroke-width="0.85"/>
<rect x="180.50" y="599.50" width="8.0" height="16.0" rx="0.4" fill="#fff" stroke="#7c7c7c" stroke-width="0.85"/>
<rect x="191.50" y="599.50" width="8.0" height="16.0" rx="0.4" fill="#fff" stroke="#7c7c7c" stroke-width="0.85"/>
<rect x="201.50" y="599.50" width="8.0" height="16.0" rx="0.4" fill="#111" stroke="#7c7c7c" stroke-width="0.85"/>
<rect x="212.50" y="599.50" width="8.0" height="16.0" rx="0.4" fill="#111" stroke="#7c7c7c" stroke-width="0.85"/>
<rect x="222.50" y="599.50" width="8.0" height="16.0" rx="0.4" fill="#111" stroke="#7c7c7c" stroke-width="0.85"/>
<rect x="233.50" y="599.50" width="8.0" height="16.0" rx="0.4" fill="#111" stroke="#7c7c7c" stroke-width="0.85"/>
<rect x="243.50" y="599.50" width="8.0" height="16.0" rx="0.4" fill="#fff" stroke="#7c7c7c" stroke-width="0.85"/>
<rect x="253.50" y="599.50" width="8.0" height="16.0" rx="0.4" fill="#fff" stroke="#7c7c7c" stroke-width="0.85"/>
<rect x="264.50" y="599.50" width="8.0" height="16.0" rx="0.4" fill="#fff" stroke="#7c7c7c" stroke-width="0.85"/>
<rect x="280.50" y="602.50" width="8" height="11" rx="0.4" fill="url(#hat)" stroke="#888" stroke-width="0.85"/>
<line x1="181.50" y1="599.50" x2="181.50" y2="615.50" stroke="#444" stroke-width="0.8"/>
<circle cx="182.10" cy="607.20" r="1.1" fill="#111"/>
<line x1="192.50" y1="599.50" x2="192.50" y2="615.50" stroke="#555" stroke-width="0.7"/>
<line x1="194.50" y1="599.50" x2="194.50" y2="615.50" stroke="#555" stroke-width="0.7"/>
<line x1="196.50" y1="599.50" x2="196.50" y2="615.50" stroke="#555" stroke-width="0.7"/>
<line x1="198.50" y1="599.50" x2="198.50" y2="615.50" stroke="#555" stroke-width="0.7"/>
<circle cx="194.50" cy="607.20" r="1.1" fill="#111"/>
<circle cx="196.50" cy="607.20" r="1.1" fill="#111"/>
<line x1="216.50" y1="599.50" x2="216.50" y2="615.50" stroke="#8a8a8a" stroke-width="1.6"/>
<circle cx="216.50" cy="607.20" r="1.0" fill="#fff"/>
<line x1="237.50" y1="599.50" x2="237.50" y2="615.50" stroke="#8a8a8a" stroke-width="1.6"/>
<circle cx="237.50" cy="607.20" r="1.0" fill="#fff"/>
<text x="107.90" y="631.20" font-size="7.0" textLength="42.35" lengthAdjust="spacingAndGlyphs" fill="#333">D pseudogene</text>
<rect x="156.50" y="623.50" width="8" height="11" rx="0.4" fill="url(#hat)" stroke="#888" stroke-width="0.85"/>
<rect x="170.50" y="621.50" width="8.0" height="16.0" rx="0.4" fill="#fff" stroke="#7c7c7c" stroke-width="0.85"/>
<rect x="180.50" y="621.50" width="8.0" height="16.0" rx="0.4" fill="#fff" stroke="#7c7c7c" stroke-width="0.85"/>
<rect x="191.50" y="621.50" width="8.0" height="16.0" rx="0.4" fill="#fff" stroke="#7c7c7c" stroke-width="0.85"/>
<rect x="201.50" y="621.50" width="8.0" height="16.0" rx="0.4" fill="#fff" stroke="#7c7c7c" stroke-width="0.85"/>
<rect x="212.50" y="621.50" width="8.0" height="16.0" rx="0.4" fill="#fff" stroke="#7c7c7c" stroke-width="0.85"/>
<rect x="222.50" y="621.50" width="8.0" height="16.0" rx="0.4" fill="#fff" stroke="#7c7c7c" stroke-width="0.85"/>
<rect x="233.50" y="621.50" width="8.0" height="16.0" rx="0.4" fill="#fff" stroke="#7c7c7c" stroke-width="0.85"/>
<rect x="243.50" y="621.50" width="8.0" height="16.0" rx="0.4" fill="#fff" stroke="#7c7c7c" stroke-width="0.85"/>
<rect x="253.50" y="621.50" width="8.0" height="16.0" rx="0.4" fill="#fff" stroke="#7c7c7c" stroke-width="0.85"/>
<rect x="264.50" y="621.50" width="8.0" height="16.0" rx="0.4" fill="#fff" stroke="#7c7c7c" stroke-width="0.85"/>
<rect x="280.50" y="623.50" width="8" height="11" rx="0.4" fill="url(#hat)" stroke="#888" stroke-width="0.85"/>
<line x1="200.50" y1="621.50" x2="200.50" y2="637.50" stroke="#555" stroke-width="0.7"/>
<line x1="202.50" y1="621.50" x2="202.50" y2="637.50" stroke="#555" stroke-width="0.7"/>
<line x1="207.50" y1="621.50" x2="207.50" y2="637.50" stroke="#555" stroke-width="0.7"/>
<circle cx="207.50" cy="628.80" r="1.1" fill="#111"/>
<line x1="213.50" y1="621.50" x2="213.50" y2="637.50" stroke="#555" stroke-width="0.7"/>
<line x1="215.50" y1="621.50" x2="215.50" y2="637.50" stroke="#555" stroke-width="0.7"/>
<line x1="217.50" y1="621.50" x2="217.50" y2="637.50" stroke="#555" stroke-width="0.7"/>
<line x1="219.50" y1="621.50" x2="219.50" y2="637.50" stroke="#555" stroke-width="0.7"/>
<circle cx="213.80" cy="628.80" r="1.1" fill="#111"/>
<circle cx="217.00" cy="628.80" r="1.1" fill="#111"/>
<line x1="223.50" y1="621.50" x2="223.50" y2="637.50" stroke="#555" stroke-width="0.7"/>
<circle cx="224.10" cy="628.80" r="1.1" fill="#111"/>
<text x="107.90" y="658.50" font-size="7.0" textLength="16.28" lengthAdjust="spacingAndGlyphs" fill="#333">DEL1</text>
<rect x="156.50" y="651.50" width="8" height="11" rx="0.4" fill="url(#hat)" stroke="#888" stroke-width="0.85"/>
<rect x="170.50" y="648.50" width="8.0" height="16.0" rx="0.4" fill="#fff" stroke="#7c7c7c" stroke-width="0.85"/>
<rect x="180.50" y="648.50" width="8.0" height="16.0" rx="0.4" fill="#fff" stroke="#7c7c7c" stroke-width="0.85"/>
<rect x="191.50" y="648.50" width="8.0" height="16.0" rx="0.4" fill="#fff" stroke="#7c7c7c" stroke-width="0.85"/>
<rect x="201.50" y="648.50" width="8.0" height="16.0" rx="0.4" fill="#fff" stroke="#7c7c7c" stroke-width="0.85"/>
<rect x="212.50" y="648.50" width="8.0" height="16.0" rx="0.4" fill="#fff" stroke="#7c7c7c" stroke-width="0.85"/>
<rect x="222.50" y="648.50" width="8.0" height="16.0" rx="0.4" fill="#fff" stroke="#7c7c7c" stroke-width="0.85"/>
<rect x="233.50" y="648.50" width="8.0" height="16.0" rx="0.4" fill="#fff" stroke="#7c7c7c" stroke-width="0.85"/>
<rect x="243.50" y="648.50" width="8.0" height="16.0" rx="0.4" fill="#fff" stroke="#7c7c7c" stroke-width="0.85"/>
<rect x="253.50" y="648.50" width="8.0" height="16.0" rx="0.4" fill="#fff" stroke="#7c7c7c" stroke-width="0.85"/>
<rect x="264.50" y="648.50" width="8.0" height="16.0" rx="0.4" fill="#fff" stroke="#7c7c7c" stroke-width="0.85"/>
<rect x="280.50" y="651.50" width="8" height="11" rx="0.4" fill="url(#hat)" stroke="#888" stroke-width="0.85"/>
<line x1="260.50" y1="648.50" x2="260.50" y2="664.50" stroke="#333" stroke-width="0.8"/>
<circle cx="260.50" cy="656.10" r="1.1" fill="#111"/>
<line x1="94.8" y1="576.8" x2="288.8" y2="576.8" stroke="#666" stroke-width="1.3"/>
<line x1="106.2" y1="642.5" x2="288.8" y2="642.5" stroke="#666" stroke-width="1.3"/>
<line x1="94.8" y1="671.7" x2="288.8" y2="671.7" stroke="#666" stroke-width="1.3"/>
<line x1="305.4" y1="576.6" x2="438.6" y2="576.6" stroke="#666" stroke-width="1.3"/>
<line x1="305.4" y1="642.5" x2="438.6" y2="642.5" stroke="#666" stroke-width="1.3"/>
<line x1="305.4" y1="671.8" x2="438.6" y2="671.8" stroke="#666" stroke-width="1.3"/>
<line x1="305.2" y1="490.9" x2="438.6" y2="490.9" stroke="#666" stroke-width="1.3"/>
<text x="0" y="0" font-size="9.1" fill="#222" text-anchor="middle" textLength="38.5" lengthAdjust="spacingAndGlyphs" transform="translate(101.2 528.75) rotate(-90)">D positive</text>
<text x="0" y="0" font-size="9.1" fill="#222" text-anchor="middle" textLength="44.6" lengthAdjust="spacingAndGlyphs" transform="translate(101.2 623.4) rotate(-90)">D negative</text>
<text x="323.00" y="486.10" font-size="6.6" text-anchor="middle" textLength="37.75" lengthAdjust="spacingAndGlyphs" fill="#333">Homozygous</text>
<text x="373.10" y="486.10" font-size="6.6" text-anchor="middle" textLength="39.91" lengthAdjust="spacingAndGlyphs" fill="#333">Heterozygous</text>
<text x="419.80" y="486.10" font-size="6.6" text-anchor="middle" textLength="35.59" lengthAdjust="spacingAndGlyphs" fill="#333">Hemizygous</text>
<text x="323.00" y="503.40" font-size="7.0" text-anchor="middle" fill="#333" transform="translate(323.00 0) scale(0.92 1) translate(-323.00 0)"><tspan fill="#333">2912</tspan></text>
<text x="373.10" y="503.40" font-size="7.0" text-anchor="middle" fill="#333" transform="translate(373.10 0) scale(0.92 1) translate(-373.10 0)"><tspan fill="#333">30</tspan></text>
<text x="419.80" y="503.40" font-size="7.0" text-anchor="middle" fill="#333" transform="translate(419.80 0) scale(0.92 1) translate(-419.80 0)"><tspan fill="#333">2413</tspan></text>
<text x="323.00" y="523.50" font-size="7.0" text-anchor="middle" fill="#333" transform="translate(323.00 0) scale(0.92 1) translate(-323.00 0)"><tspan fill="#333">5 (</tspan><tspan fill="#3d9a3d">5</tspan><tspan fill="#333">)</tspan></text>
<text x="373.10" y="523.50" font-size="7.0" text-anchor="middle" fill="#333" transform="translate(373.10 0) scale(0.92 1) translate(-373.10 0)"><tspan fill="#333">12 (</tspan><tspan fill="#3d9a3d">1</tspan><tspan fill="#333">)</tspan></text>
<text x="419.80" y="523.50" font-size="7.0" text-anchor="middle" fill="#333" transform="translate(419.80 0) scale(0.92 1) translate(-419.80 0)"><tspan fill="#333">15 (</tspan><tspan fill="#3d9a3d">13</tspan><tspan fill="#333">)</tspan></text>
<text x="323.00" y="543.40" font-size="7.0" text-anchor="middle" fill="#333" transform="translate(323.00 0) scale(0.92 1) translate(-323.00 0)"><tspan fill="#333">0</tspan></text>
<text x="373.10" y="543.40" font-size="7.0" text-anchor="middle" fill="#333" transform="translate(373.10 0) scale(0.92 1) translate(-373.10 0)"><tspan fill="#333">9 (</tspan><tspan fill="#3d9a3d">2</tspan><tspan fill="#333">)</tspan></text>
<text x="419.80" y="543.40" font-size="7.0" text-anchor="middle" fill="#333" transform="translate(419.80 0) scale(0.92 1) translate(-419.80 0)"><tspan fill="#333">19 (</tspan><tspan fill="#3d9a3d">14</tspan><tspan fill="#333">/</tspan><tspan fill="#e08a2a">1</tspan><tspan fill="#333">)</tspan></text>
<text x="323.00" y="563.20" font-size="7.0" text-anchor="middle" fill="#333" transform="translate(323.00 0) scale(0.92 1) translate(-323.00 0)"><tspan fill="#333">0</tspan></text>
<text x="373.10" y="563.20" font-size="7.0" text-anchor="middle" fill="#333" transform="translate(373.10 0) scale(0.92 1) translate(-373.10 0)"><tspan fill="#333">12 (</tspan><tspan fill="#3d9a3d">2</tspan><tspan fill="#333">)</tspan></text>
<text x="419.80" y="563.20" font-size="7.0" text-anchor="middle" fill="#333" transform="translate(419.80 0) scale(0.92 1) translate(-419.80 0)"><tspan fill="#333">8 (</tspan><tspan fill="#3d9a3d">6</tspan><tspan fill="#333">/</tspan><tspan fill="#d9534f">2</tspan><tspan fill="#333">)</tspan></text>
<text x="323.00" y="590.70" font-size="7.0" text-anchor="middle" fill="#333" transform="translate(323.00 0) scale(0.92 1) translate(-323.00 0)"><tspan fill="#333">1517</tspan></text>
<text x="373.10" y="590.70" font-size="7.0" text-anchor="middle" fill="#333" transform="translate(373.10 0) scale(0.92 1) translate(-373.10 0)"><tspan fill="#333">–</tspan></text>
<text x="419.80" y="590.70" font-size="7.0" text-anchor="middle" fill="#333" transform="translate(419.80 0) scale(0.92 1) translate(-419.80 0)"><tspan fill="#333">–</tspan></text>
<text x="323.00" y="608.80" font-size="7.0" text-anchor="middle" fill="#333" transform="translate(323.00 0) scale(0.92 1) translate(-323.00 0)"><tspan fill="#333">2 (</tspan><tspan fill="#3d9a3d">2</tspan><tspan fill="#333">)</tspan></text>
<text x="373.10" y="608.80" font-size="7.0" text-anchor="middle" fill="#333" transform="translate(373.10 0) scale(0.92 1) translate(-373.10 0)"><tspan fill="#333">14 (</tspan><tspan fill="#3d9a3d">8</tspan><tspan fill="#333">)</tspan></text>
<text x="419.80" y="608.80" font-size="7.0" text-anchor="middle" fill="#333" transform="translate(419.80 0) scale(0.92 1) translate(-419.80 0)"><tspan fill="#333">10 (</tspan><tspan fill="#3d9a3d">2</tspan><tspan fill="#333">)</tspan></text>
<text x="323.00" y="631.10" font-size="7.0" text-anchor="middle" fill="#333" transform="translate(323.00 0) scale(0.92 1) translate(-323.00 0)"><tspan fill="#333">1</tspan></text>
<text x="373.10" y="631.10" font-size="7.0" text-anchor="middle" fill="#333" transform="translate(373.10 0) scale(0.92 1) translate(-373.10 0)"><tspan fill="#333">5 (</tspan><tspan fill="#3d9a3d">3</tspan><tspan fill="#333">)</tspan></text>
<text x="419.80" y="631.10" font-size="7.0" text-anchor="middle" fill="#333" transform="translate(419.80 0) scale(0.92 1) translate(-419.80 0)"><tspan fill="#333">11</tspan></text>
<text x="323.00" y="658.10" font-size="7.0" text-anchor="middle" fill="#333" transform="translate(323.00 0) scale(0.92 1) translate(-323.00 0)"><tspan fill="#333">0</tspan></text>
<text x="373.10" y="658.10" font-size="7.0" text-anchor="middle" fill="#333" transform="translate(373.10 0) scale(0.92 1) translate(-373.10 0)"><tspan fill="#333">3 (1)</tspan></text>
<text x="419.80" y="658.10" font-size="7.0" text-anchor="middle" fill="#333" transform="translate(419.80 0) scale(0.92 1) translate(-419.80 0)"><tspan fill="#333">2 (1)</tspan></text>
<rect x="124.2" y="678.6" width="5.6" height="10.6" rx="0.5" fill="#fff" stroke="#808080" stroke-width="0.85"/>
<text x="133.10" y="686.00" font-size="6.4" fill="#333">RHD exon</text>
<rect x="168.8" y="678.4" width="5.5" height="10.4" rx="0.4" fill="#111" stroke="#444" stroke-width="0.6"/>
<text x="176.60" y="686.00" font-size="6.4" fill="#333">RHCE exon</text>
<rect x="216.9" y="678.6" width="4.8" height="10.6" rx="0.4" fill="url(#hat)" stroke="#858585" stroke-width="0.8"/>
<text x="225.60" y="686.00" font-size="6.4" textLength="29.4" lengthAdjust="spacingAndGlyphs" fill="#333">Rhesus box</text>
<rect x="143.0" y="692.0" width="2.8" height="11.4" rx="0.3" fill="#fff" stroke="#808080" stroke-width="0.7"/>
<line x1="144.4" y1="692" x2="144.4" y2="703.4" stroke="#777" stroke-width="0.5"/>
<text x="148.80" y="700.00" font-size="6.4" textLength="22.9" lengthAdjust="spacingAndGlyphs" fill="#333">Insertion</text>
<line x1="181.5" y1="692" x2="181.5" y2="703.6" stroke="#222" stroke-width="0.7"/>
<circle cx="181.5" cy="697.8" r="0.9" fill="#111"/>
<text x="184.80" y="700.00" font-size="6.4" textLength="54.9" lengthAdjust="spacingAndGlyphs" fill="#333">Nucleotide change</text>
<rect x="0.5" y="0.5" width="519" height="709" fill="none" stroke="#555" stroke-width="1"/>
<rect x="0" y="708.6" width="520" height="1.4" fill="#555"/>
<rect x="518.7" y="0" width="1.3" height="710" fill="#555"/>
</svg>
</body></html>
